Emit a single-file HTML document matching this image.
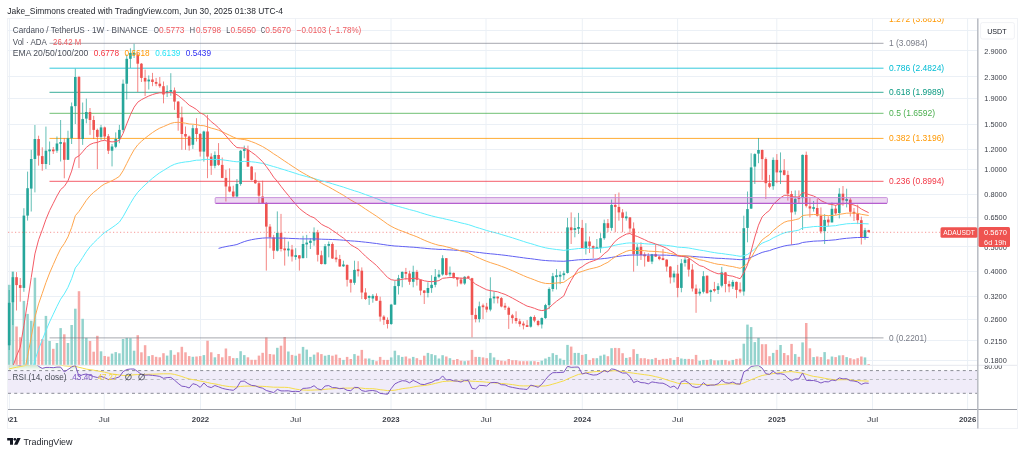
<!DOCTYPE html>
<html><head><meta charset="utf-8"><style>
html,body{margin:0;padding:0;background:#fff;width:1024px;height:454px;overflow:hidden}
svg{position:absolute;left:0;top:0;font-family:"Liberation Sans",sans-serif;will-change:transform}
</style></head><body>
<svg width="1024" height="454" viewBox="0 0 1024 454">
<rect x="7.5" y="18.5" width="1010" height="410" fill="none" stroke="#f0f2f6" stroke-width="1"/>
<line x1="8" x2="977" y1="30.5" y2="30.5" stroke="#ebf0f6" stroke-width="1"/>
<line x1="8" x2="977" y1="50.5" y2="50.5" stroke="#ebf0f6" stroke-width="1"/>
<line x1="8" x2="977" y1="76.5" y2="76.5" stroke="#ebf0f6" stroke-width="1"/>
<line x1="8" x2="977" y1="98.5" y2="98.5" stroke="#ebf0f6" stroke-width="1"/>
<line x1="8" x2="977" y1="124.5" y2="124.5" stroke="#ebf0f6" stroke-width="1"/>
<line x1="8" x2="977" y1="149.5" y2="149.5" stroke="#ebf0f6" stroke-width="1"/>
<line x1="8" x2="977" y1="169.5" y2="169.5" stroke="#ebf0f6" stroke-width="1"/>
<line x1="8" x2="977" y1="194.5" y2="194.5" stroke="#ebf0f6" stroke-width="1"/>
<line x1="8" x2="977" y1="217.5" y2="217.5" stroke="#ebf0f6" stroke-width="1"/>
<line x1="8" x2="977" y1="246.5" y2="246.5" stroke="#ebf0f6" stroke-width="1"/>
<line x1="8" x2="977" y1="271.5" y2="271.5" stroke="#ebf0f6" stroke-width="1"/>
<line x1="8" x2="977" y1="296.5" y2="296.5" stroke="#ebf0f6" stroke-width="1"/>
<line x1="8" x2="977" y1="319.5" y2="319.5" stroke="#ebf0f6" stroke-width="1"/>
<line x1="8" x2="977" y1="340.5" y2="340.5" stroke="#ebf0f6" stroke-width="1"/>
<line x1="8" x2="977" y1="360.5" y2="360.5" stroke="#ebf0f6" stroke-width="1"/>
<line x1="9.4" x2="9.4" y1="18.5" y2="409" stroke="#ebf0f6" stroke-width="1"/>
<line x1="104.2" x2="104.2" y1="18.5" y2="409" stroke="#ebf0f6" stroke-width="1"/>
<line x1="200.5" x2="200.5" y1="18.5" y2="409" stroke="#ebf0f6" stroke-width="1"/>
<line x1="295.5" x2="295.5" y1="18.5" y2="409" stroke="#ebf0f6" stroke-width="1"/>
<line x1="391" x2="391" y1="18.5" y2="409" stroke="#ebf0f6" stroke-width="1"/>
<line x1="486" x2="486" y1="18.5" y2="409" stroke="#ebf0f6" stroke-width="1"/>
<line x1="582.3" x2="582.3" y1="18.5" y2="409" stroke="#ebf0f6" stroke-width="1"/>
<line x1="677.6" x2="677.6" y1="18.5" y2="409" stroke="#ebf0f6" stroke-width="1"/>
<line x1="776.8" x2="776.8" y1="18.5" y2="409" stroke="#ebf0f6" stroke-width="1"/>
<line x1="872.5" x2="872.5" y1="18.5" y2="409" stroke="#ebf0f6" stroke-width="1"/>
<line x1="967.6" x2="967.6" y1="18.5" y2="409" stroke="#ebf0f6" stroke-width="1"/>
<rect x="8" y="370.6" width="969.5" height="22.7" fill="#f0ecf9"/>
<line x1="8" x2="977" y1="370.6" y2="370.6" stroke="#8a8d96" stroke-width="1" stroke-dasharray="3 3.2"/>
<line x1="8" x2="977" y1="379.5" y2="379.5" stroke="#b8bac0" stroke-width="1" stroke-dasharray="3 3.2"/>
<line x1="8" x2="977" y1="393.3" y2="393.3" stroke="#8a8d96" stroke-width="1" stroke-dasharray="3 3.2"/>
<line x1="8" x2="1017" y1="365.3" y2="365.3" stroke="#e6e8ee" stroke-width="1"/>
<line x1="8" x2="1017" y1="409.5" y2="409.5" stroke="#9a9da5" stroke-width="1"/>
<line x1="977.8" x2="977.8" y1="18.5" y2="428.5" stroke="#b8bbc3" stroke-width="1.5"/>
<rect x="7.95" y="284.8" width="2.5" height="80.0" fill="#93d3cd"/>
<rect x="11.62" y="271.5" width="2.5" height="93.3" fill="#93d3cd"/>
<rect x="15.30" y="326.5" width="2.5" height="38.3" fill="#f7a8a6"/>
<rect x="18.97" y="337.2" width="2.5" height="27.6" fill="#f7a8a6"/>
<rect x="22.64" y="300.9" width="2.5" height="63.9" fill="#93d3cd"/>
<rect x="26.32" y="313.9" width="2.5" height="50.9" fill="#93d3cd"/>
<rect x="29.99" y="320.7" width="2.5" height="44.1" fill="#93d3cd"/>
<rect x="33.66" y="277.7" width="2.5" height="87.1" fill="#93d3cd"/>
<rect x="37.33" y="326.5" width="2.5" height="38.3" fill="#f7a8a6"/>
<rect x="41.01" y="339.1" width="2.5" height="25.7" fill="#f7a8a6"/>
<rect x="44.68" y="315.9" width="2.5" height="48.9" fill="#93d3cd"/>
<rect x="48.35" y="341.0" width="2.5" height="23.8" fill="#93d3cd"/>
<rect x="52.03" y="348.8" width="2.5" height="16.0" fill="#f7a8a6"/>
<rect x="55.70" y="343.0" width="2.5" height="21.8" fill="#93d3cd"/>
<rect x="59.37" y="328.1" width="2.5" height="36.7" fill="#93d3cd"/>
<rect x="63.05" y="334.3" width="2.5" height="30.5" fill="#f7a8a6"/>
<rect x="66.72" y="343.0" width="2.5" height="21.8" fill="#93d3cd"/>
<rect x="70.39" y="325.0" width="2.5" height="39.8" fill="#93d3cd"/>
<rect x="74.06" y="308.7" width="2.5" height="56.1" fill="#93d3cd"/>
<rect x="77.74" y="291.2" width="2.5" height="73.6" fill="#f7a8a6"/>
<rect x="81.41" y="318.8" width="2.5" height="46.0" fill="#93d3cd"/>
<rect x="85.08" y="337.8" width="2.5" height="27.0" fill="#93d3cd"/>
<rect x="88.76" y="341.0" width="2.5" height="23.8" fill="#f7a8a6"/>
<rect x="92.43" y="351.7" width="2.5" height="13.1" fill="#f7a8a6"/>
<rect x="96.10" y="335.8" width="2.5" height="29.0" fill="#f7a8a6"/>
<rect x="99.78" y="351.3" width="2.5" height="13.5" fill="#93d3cd"/>
<rect x="103.45" y="356.0" width="2.5" height="8.8" fill="#f7a8a6"/>
<rect x="107.12" y="356.6" width="2.5" height="8.2" fill="#f7a8a6"/>
<rect x="110.79" y="353.6" width="2.5" height="11.2" fill="#93d3cd"/>
<rect x="114.47" y="352.1" width="2.5" height="12.7" fill="#93d3cd"/>
<rect x="118.14" y="353.3" width="2.5" height="11.5" fill="#93d3cd"/>
<rect x="121.81" y="339.0" width="2.5" height="25.8" fill="#93d3cd"/>
<rect x="125.49" y="337.9" width="2.5" height="26.9" fill="#93d3cd"/>
<rect x="129.16" y="338.2" width="2.5" height="26.6" fill="#93d3cd"/>
<rect x="132.83" y="350.7" width="2.5" height="14.1" fill="#93d3cd"/>
<rect x="136.50" y="335.2" width="2.5" height="29.6" fill="#f7a8a6"/>
<rect x="140.18" y="352.3" width="2.5" height="12.5" fill="#f7a8a6"/>
<rect x="143.85" y="345.2" width="2.5" height="19.6" fill="#f7a8a6"/>
<rect x="147.52" y="356.1" width="2.5" height="8.7" fill="#93d3cd"/>
<rect x="151.20" y="355.1" width="2.5" height="9.7" fill="#f7a8a6"/>
<rect x="154.87" y="356.8" width="2.5" height="8.0" fill="#f7a8a6"/>
<rect x="158.54" y="357.3" width="2.5" height="7.5" fill="#f7a8a6"/>
<rect x="162.22" y="353.2" width="2.5" height="11.6" fill="#f7a8a6"/>
<rect x="165.89" y="355.6" width="2.5" height="9.2" fill="#93d3cd"/>
<rect x="169.56" y="350.2" width="2.5" height="14.6" fill="#93d3cd"/>
<rect x="173.23" y="354.8" width="2.5" height="10.0" fill="#f7a8a6"/>
<rect x="176.91" y="352.3" width="2.5" height="12.5" fill="#f7a8a6"/>
<rect x="180.58" y="346.8" width="2.5" height="18.0" fill="#f7a8a6"/>
<rect x="184.25" y="352.3" width="2.5" height="12.5" fill="#f7a8a6"/>
<rect x="187.93" y="356.1" width="2.5" height="8.7" fill="#f7a8a6"/>
<rect x="191.60" y="356.8" width="2.5" height="8.0" fill="#93d3cd"/>
<rect x="195.27" y="356.5" width="2.5" height="8.3" fill="#f7a8a6"/>
<rect x="198.95" y="356.1" width="2.5" height="8.7" fill="#f7a8a6"/>
<rect x="202.62" y="355.1" width="2.5" height="9.7" fill="#93d3cd"/>
<rect x="206.29" y="340.7" width="2.5" height="24.1" fill="#f7a8a6"/>
<rect x="209.97" y="352.3" width="2.5" height="12.5" fill="#f7a8a6"/>
<rect x="213.64" y="357.3" width="2.5" height="7.5" fill="#93d3cd"/>
<rect x="217.31" y="354.0" width="2.5" height="10.8" fill="#f7a8a6"/>
<rect x="220.98" y="357.3" width="2.5" height="7.5" fill="#f7a8a6"/>
<rect x="224.66" y="348.5" width="2.5" height="16.3" fill="#f7a8a6"/>
<rect x="228.33" y="356.1" width="2.5" height="8.7" fill="#f7a8a6"/>
<rect x="232.00" y="358.1" width="2.5" height="6.7" fill="#f7a8a6"/>
<rect x="235.68" y="358.1" width="2.5" height="6.7" fill="#93d3cd"/>
<rect x="239.35" y="351.2" width="2.5" height="13.6" fill="#93d3cd"/>
<rect x="243.02" y="355.1" width="2.5" height="9.7" fill="#93d3cd"/>
<rect x="246.69" y="357.3" width="2.5" height="7.5" fill="#f7a8a6"/>
<rect x="250.37" y="359.8" width="2.5" height="5.0" fill="#f7a8a6"/>
<rect x="254.04" y="359.8" width="2.5" height="5.0" fill="#f7a8a6"/>
<rect x="257.71" y="355.6" width="2.5" height="9.2" fill="#f7a8a6"/>
<rect x="261.39" y="352.8" width="2.5" height="12.0" fill="#f7a8a6"/>
<rect x="265.06" y="337.4" width="2.5" height="27.4" fill="#f7a8a6"/>
<rect x="268.73" y="354.0" width="2.5" height="10.8" fill="#f7a8a6"/>
<rect x="272.41" y="354.5" width="2.5" height="10.3" fill="#f7a8a6"/>
<rect x="276.08" y="347.8" width="2.5" height="17.0" fill="#93d3cd"/>
<rect x="279.75" y="345.7" width="2.5" height="19.1" fill="#f7a8a6"/>
<rect x="283.43" y="337.0" width="2.5" height="27.8" fill="#f7a8a6"/>
<rect x="287.10" y="351.5" width="2.5" height="13.3" fill="#93d3cd"/>
<rect x="290.77" y="354.9" width="2.5" height="9.9" fill="#f7a8a6"/>
<rect x="294.44" y="355.7" width="2.5" height="9.1" fill="#93d3cd"/>
<rect x="298.12" y="353.7" width="2.5" height="11.1" fill="#f7a8a6"/>
<rect x="301.79" y="346.9" width="2.5" height="17.9" fill="#93d3cd"/>
<rect x="305.46" y="349.6" width="2.5" height="15.2" fill="#93d3cd"/>
<rect x="309.14" y="356.9" width="2.5" height="7.9" fill="#93d3cd"/>
<rect x="312.81" y="354.6" width="2.5" height="10.2" fill="#93d3cd"/>
<rect x="316.48" y="352.4" width="2.5" height="12.4" fill="#f7a8a6"/>
<rect x="320.15" y="354.1" width="2.5" height="10.7" fill="#f7a8a6"/>
<rect x="323.83" y="355.7" width="2.5" height="9.1" fill="#93d3cd"/>
<rect x="327.50" y="354.9" width="2.5" height="9.9" fill="#93d3cd"/>
<rect x="331.17" y="355.7" width="2.5" height="9.1" fill="#f7a8a6"/>
<rect x="334.85" y="354.6" width="2.5" height="10.2" fill="#f7a8a6"/>
<rect x="338.52" y="357.9" width="2.5" height="6.9" fill="#f7a8a6"/>
<rect x="342.19" y="359.9" width="2.5" height="4.9" fill="#93d3cd"/>
<rect x="345.87" y="356.9" width="2.5" height="7.9" fill="#f7a8a6"/>
<rect x="349.54" y="359.0" width="2.5" height="5.8" fill="#f7a8a6"/>
<rect x="353.21" y="354.1" width="2.5" height="10.7" fill="#93d3cd"/>
<rect x="356.88" y="355.7" width="2.5" height="9.1" fill="#f7a8a6"/>
<rect x="360.56" y="349.9" width="2.5" height="14.9" fill="#f7a8a6"/>
<rect x="364.23" y="358.5" width="2.5" height="6.3" fill="#f7a8a6"/>
<rect x="367.90" y="358.5" width="2.5" height="6.3" fill="#93d3cd"/>
<rect x="371.58" y="359.9" width="2.5" height="4.9" fill="#93d3cd"/>
<rect x="375.25" y="361.2" width="2.5" height="3.6" fill="#f7a8a6"/>
<rect x="378.92" y="356.9" width="2.5" height="7.9" fill="#f7a8a6"/>
<rect x="382.60" y="359.9" width="2.5" height="4.9" fill="#f7a8a6"/>
<rect x="386.27" y="359.9" width="2.5" height="4.9" fill="#f7a8a6"/>
<rect x="389.94" y="357.4" width="2.5" height="7.4" fill="#93d3cd"/>
<rect x="393.62" y="350.7" width="2.5" height="14.1" fill="#93d3cd"/>
<rect x="397.29" y="355.2" width="2.5" height="9.6" fill="#93d3cd"/>
<rect x="400.96" y="356.9" width="2.5" height="7.9" fill="#93d3cd"/>
<rect x="404.63" y="356.5" width="2.5" height="8.3" fill="#f7a8a6"/>
<rect x="408.31" y="358.5" width="2.5" height="6.3" fill="#f7a8a6"/>
<rect x="411.98" y="356.9" width="2.5" height="7.9" fill="#93d3cd"/>
<rect x="415.65" y="358.2" width="2.5" height="6.6" fill="#f7a8a6"/>
<rect x="419.33" y="359.9" width="2.5" height="4.9" fill="#f7a8a6"/>
<rect x="423.00" y="355.7" width="2.5" height="9.1" fill="#f7a8a6"/>
<rect x="426.67" y="352.9" width="2.5" height="11.9" fill="#93d3cd"/>
<rect x="430.34" y="354.1" width="2.5" height="10.7" fill="#93d3cd"/>
<rect x="434.02" y="355.2" width="2.5" height="9.6" fill="#93d3cd"/>
<rect x="437.69" y="358.5" width="2.5" height="6.3" fill="#93d3cd"/>
<rect x="441.36" y="355.2" width="2.5" height="9.6" fill="#93d3cd"/>
<rect x="445.04" y="356.5" width="2.5" height="8.3" fill="#f7a8a6"/>
<rect x="448.71" y="358.2" width="2.5" height="6.6" fill="#93d3cd"/>
<rect x="452.38" y="359.9" width="2.5" height="4.9" fill="#f7a8a6"/>
<rect x="456.06" y="359.0" width="2.5" height="5.8" fill="#f7a8a6"/>
<rect x="459.73" y="360.7" width="2.5" height="4.1" fill="#f7a8a6"/>
<rect x="463.40" y="361.2" width="2.5" height="3.6" fill="#93d3cd"/>
<rect x="467.07" y="360.7" width="2.5" height="4.1" fill="#f7a8a6"/>
<rect x="470.75" y="349.9" width="2.5" height="14.9" fill="#f7a8a6"/>
<rect x="474.42" y="356.9" width="2.5" height="7.9" fill="#f7a8a6"/>
<rect x="478.09" y="356.9" width="2.5" height="7.9" fill="#93d3cd"/>
<rect x="481.77" y="357.4" width="2.5" height="7.4" fill="#f7a8a6"/>
<rect x="485.44" y="358.2" width="2.5" height="6.6" fill="#f7a8a6"/>
<rect x="489.11" y="352.9" width="2.5" height="11.9" fill="#93d3cd"/>
<rect x="492.79" y="357.4" width="2.5" height="7.4" fill="#93d3cd"/>
<rect x="496.46" y="359.9" width="2.5" height="4.9" fill="#f7a8a6"/>
<rect x="500.13" y="360.7" width="2.5" height="4.1" fill="#f7a8a6"/>
<rect x="503.81" y="361.2" width="2.5" height="3.6" fill="#f7a8a6"/>
<rect x="507.48" y="359.0" width="2.5" height="5.8" fill="#f7a8a6"/>
<rect x="511.15" y="360.2" width="2.5" height="4.6" fill="#f7a8a6"/>
<rect x="514.82" y="360.2" width="2.5" height="4.6" fill="#f7a8a6"/>
<rect x="518.50" y="361.2" width="2.5" height="3.6" fill="#f7a8a6"/>
<rect x="522.17" y="361.2" width="2.5" height="3.6" fill="#f7a8a6"/>
<rect x="525.84" y="361.2" width="2.5" height="3.6" fill="#f7a8a6"/>
<rect x="529.52" y="361.2" width="2.5" height="3.6" fill="#93d3cd"/>
<rect x="533.19" y="361.2" width="2.5" height="3.6" fill="#f7a8a6"/>
<rect x="536.86" y="361.9" width="2.5" height="2.9" fill="#f7a8a6"/>
<rect x="540.54" y="360.7" width="2.5" height="4.1" fill="#93d3cd"/>
<rect x="544.21" y="358.5" width="2.5" height="6.3" fill="#93d3cd"/>
<rect x="547.88" y="356.9" width="2.5" height="7.9" fill="#93d3cd"/>
<rect x="551.55" y="353.2" width="2.5" height="11.6" fill="#93d3cd"/>
<rect x="555.23" y="354.9" width="2.5" height="9.9" fill="#93d3cd"/>
<rect x="558.90" y="358.5" width="2.5" height="6.3" fill="#93d3cd"/>
<rect x="562.57" y="359.9" width="2.5" height="4.9" fill="#93d3cd"/>
<rect x="566.25" y="344.9" width="2.5" height="19.9" fill="#93d3cd"/>
<rect x="569.92" y="346.6" width="2.5" height="18.2" fill="#f7a8a6"/>
<rect x="573.59" y="352.9" width="2.5" height="11.9" fill="#93d3cd"/>
<rect x="577.27" y="352.9" width="2.5" height="11.9" fill="#93d3cd"/>
<rect x="580.94" y="354.9" width="2.5" height="9.9" fill="#f7a8a6"/>
<rect x="584.61" y="354.1" width="2.5" height="10.7" fill="#93d3cd"/>
<rect x="588.28" y="359.9" width="2.5" height="4.9" fill="#f7a8a6"/>
<rect x="591.96" y="358.2" width="2.5" height="6.6" fill="#f7a8a6"/>
<rect x="595.63" y="358.2" width="2.5" height="6.6" fill="#93d3cd"/>
<rect x="599.30" y="355.7" width="2.5" height="9.1" fill="#93d3cd"/>
<rect x="602.98" y="354.6" width="2.5" height="10.2" fill="#93d3cd"/>
<rect x="606.65" y="356.2" width="2.5" height="8.6" fill="#f7a8a6"/>
<rect x="610.32" y="348.2" width="2.5" height="16.6" fill="#93d3cd"/>
<rect x="614.00" y="347.9" width="2.5" height="16.9" fill="#f7a8a6"/>
<rect x="617.67" y="348.1" width="2.5" height="16.7" fill="#f7a8a6"/>
<rect x="621.34" y="353.2" width="2.5" height="11.6" fill="#f7a8a6"/>
<rect x="625.01" y="357.9" width="2.5" height="6.9" fill="#93d3cd"/>
<rect x="628.69" y="357.2" width="2.5" height="7.6" fill="#f7a8a6"/>
<rect x="632.36" y="349.2" width="2.5" height="15.6" fill="#f7a8a6"/>
<rect x="636.03" y="353.9" width="2.5" height="10.9" fill="#93d3cd"/>
<rect x="639.71" y="358.2" width="2.5" height="6.6" fill="#f7a8a6"/>
<rect x="643.38" y="358.2" width="2.5" height="6.6" fill="#f7a8a6"/>
<rect x="647.05" y="359.2" width="2.5" height="5.6" fill="#f7a8a6"/>
<rect x="650.73" y="359.2" width="2.5" height="5.6" fill="#93d3cd"/>
<rect x="654.40" y="357.9" width="2.5" height="6.9" fill="#f7a8a6"/>
<rect x="658.07" y="359.9" width="2.5" height="4.9" fill="#f7a8a6"/>
<rect x="661.74" y="358.9" width="2.5" height="5.9" fill="#f7a8a6"/>
<rect x="665.42" y="358.9" width="2.5" height="5.9" fill="#f7a8a6"/>
<rect x="669.09" y="358.2" width="2.5" height="6.6" fill="#f7a8a6"/>
<rect x="672.76" y="359.9" width="2.5" height="4.9" fill="#93d3cd"/>
<rect x="676.44" y="357.0" width="2.5" height="7.8" fill="#f7a8a6"/>
<rect x="680.11" y="358.5" width="2.5" height="6.3" fill="#93d3cd"/>
<rect x="683.78" y="358.9" width="2.5" height="5.9" fill="#93d3cd"/>
<rect x="687.46" y="358.9" width="2.5" height="5.9" fill="#f7a8a6"/>
<rect x="691.13" y="359.2" width="2.5" height="5.6" fill="#f7a8a6"/>
<rect x="694.80" y="354.9" width="2.5" height="9.9" fill="#f7a8a6"/>
<rect x="698.47" y="360.9" width="2.5" height="3.9" fill="#93d3cd"/>
<rect x="702.15" y="359.9" width="2.5" height="4.9" fill="#93d3cd"/>
<rect x="705.82" y="359.9" width="2.5" height="4.9" fill="#f7a8a6"/>
<rect x="709.49" y="359.2" width="2.5" height="5.6" fill="#93d3cd"/>
<rect x="713.17" y="360.4" width="2.5" height="4.4" fill="#f7a8a6"/>
<rect x="716.84" y="360.4" width="2.5" height="4.4" fill="#93d3cd"/>
<rect x="720.51" y="359.9" width="2.5" height="4.9" fill="#93d3cd"/>
<rect x="724.19" y="359.9" width="2.5" height="4.9" fill="#f7a8a6"/>
<rect x="727.86" y="361.2" width="2.5" height="3.6" fill="#f7a8a6"/>
<rect x="731.53" y="359.9" width="2.5" height="4.9" fill="#93d3cd"/>
<rect x="735.20" y="358.9" width="2.5" height="5.9" fill="#f7a8a6"/>
<rect x="738.88" y="358.5" width="2.5" height="6.3" fill="#f7a8a6"/>
<rect x="742.55" y="343.7" width="2.5" height="21.1" fill="#93d3cd"/>
<rect x="746.22" y="324.6" width="2.5" height="40.2" fill="#93d3cd"/>
<rect x="749.90" y="327.1" width="2.5" height="37.7" fill="#93d3cd"/>
<rect x="753.57" y="342.1" width="2.5" height="22.7" fill="#93d3cd"/>
<rect x="757.24" y="337.9" width="2.5" height="26.9" fill="#93d3cd"/>
<rect x="760.92" y="344.2" width="2.5" height="20.6" fill="#f7a8a6"/>
<rect x="764.59" y="344.2" width="2.5" height="20.6" fill="#f7a8a6"/>
<rect x="768.26" y="356.2" width="2.5" height="8.6" fill="#f7a8a6"/>
<rect x="771.93" y="352.9" width="2.5" height="11.9" fill="#93d3cd"/>
<rect x="775.61" y="349.9" width="2.5" height="14.9" fill="#f7a8a6"/>
<rect x="779.28" y="345.0" width="2.5" height="19.8" fill="#93d3cd"/>
<rect x="782.95" y="353.0" width="2.5" height="11.8" fill="#f7a8a6"/>
<rect x="786.63" y="355.2" width="2.5" height="9.6" fill="#f7a8a6"/>
<rect x="790.30" y="343.9" width="2.5" height="20.9" fill="#f7a8a6"/>
<rect x="793.97" y="354.1" width="2.5" height="10.7" fill="#93d3cd"/>
<rect x="797.65" y="356.8" width="2.5" height="8.0" fill="#f7a8a6"/>
<rect x="801.32" y="342.4" width="2.5" height="22.4" fill="#93d3cd"/>
<rect x="804.99" y="323.0" width="2.5" height="41.8" fill="#f7a8a6"/>
<rect x="808.66" y="348.3" width="2.5" height="16.5" fill="#f7a8a6"/>
<rect x="812.34" y="357.1" width="2.5" height="7.7" fill="#93d3cd"/>
<rect x="816.01" y="356.5" width="2.5" height="8.3" fill="#f7a8a6"/>
<rect x="819.68" y="357.1" width="2.5" height="7.7" fill="#f7a8a6"/>
<rect x="823.36" y="352.1" width="2.5" height="12.7" fill="#93d3cd"/>
<rect x="827.03" y="359.3" width="2.5" height="5.5" fill="#f7a8a6"/>
<rect x="830.70" y="356.5" width="2.5" height="8.3" fill="#93d3cd"/>
<rect x="834.38" y="357.1" width="2.5" height="7.7" fill="#f7a8a6"/>
<rect x="838.05" y="355.4" width="2.5" height="9.4" fill="#93d3cd"/>
<rect x="841.72" y="355.2" width="2.5" height="9.6" fill="#f7a8a6"/>
<rect x="845.39" y="357.1" width="2.5" height="7.7" fill="#93d3cd"/>
<rect x="849.07" y="358.2" width="2.5" height="6.6" fill="#f7a8a6"/>
<rect x="852.74" y="359.3" width="2.5" height="5.5" fill="#f7a8a6"/>
<rect x="856.41" y="358.2" width="2.5" height="6.6" fill="#f7a8a6"/>
<rect x="860.09" y="356.5" width="2.5" height="8.3" fill="#f7a8a6"/>
<rect x="863.76" y="357.4" width="2.5" height="7.4" fill="#93d3cd"/>
<rect x="867.43" y="364.0" width="2.5" height="0.8" fill="#f7a8a6"/>
<line x1="49.5" x2="883.5" y1="43.3" y2="43.3" stroke="#787b86" stroke-width="1.0" opacity="0.65"/>
<text x="889" y="45.9" font-size="8.6" fill="#787b86" textLength="38.5" lengthAdjust="spacingAndGlyphs">1 (3.0984)</text>
<line x1="49.5" x2="883.5" y1="68.2" y2="68.2" stroke="#00bcd4" stroke-width="1.0" opacity="0.8"/>
<text x="889" y="70.8" font-size="8.6" fill="#00bcd4" textLength="55.2" lengthAdjust="spacingAndGlyphs">0.786 (2.4824)</text>
<line x1="49.5" x2="883.5" y1="92.3" y2="92.3" stroke="#089981" stroke-width="1.0" opacity="0.8"/>
<text x="889" y="94.9" font-size="8.6" fill="#089981" textLength="55.2" lengthAdjust="spacingAndGlyphs">0.618 (1.9989)</text>
<line x1="49.5" x2="883.5" y1="113.3" y2="113.3" stroke="#4caf50" stroke-width="1.0" opacity="0.8"/>
<text x="889" y="115.9" font-size="8.6" fill="#4caf50" textLength="46.2" lengthAdjust="spacingAndGlyphs">0.5 (1.6592)</text>
<line x1="49.5" x2="883.5" y1="138.4" y2="138.4" stroke="#ff9800" stroke-width="1.0" opacity="0.8"/>
<text x="889" y="141.0" font-size="8.6" fill="#ff9800" textLength="55.2" lengthAdjust="spacingAndGlyphs">0.382 (1.3196)</text>
<line x1="49.5" x2="883.5" y1="181.3" y2="181.3" stroke="#f23645" stroke-width="1.0" opacity="0.8"/>
<text x="889" y="183.9" font-size="8.6" fill="#f23645" textLength="55.2" lengthAdjust="spacingAndGlyphs">0.236 (0.8994)</text>
<line x1="49.5" x2="883.5" y1="337.9" y2="337.9" stroke="#787b86" stroke-width="1.0" opacity="0.65"/>
<text x="889" y="340.5" font-size="8.6" fill="#787b86" textLength="37.8" lengthAdjust="spacingAndGlyphs">0 (0.2201)</text>
<clipPath id="ctop"><rect x="0" y="18.5" width="1024" height="400"/></clipPath>
<text x="889" y="21.8" font-size="8.6" fill="#ff9800" textLength="55.2" lengthAdjust="spacingAndGlyphs" clip-path="url(#ctop)">1.272 (3.8813)</text>
<line x1="9.20" x2="9.20" y1="290.0" y2="350.0" stroke="#26a69a" stroke-width="0.9" opacity="0.8"/>
<rect x="7.90" y="302.80" width="2.6" height="42.50" fill="#26a69a"/>
<line x1="12.87" x2="12.87" y1="271.9" y2="325.0" stroke="#26a69a" stroke-width="0.9" opacity="0.8"/>
<rect x="11.57" y="277.20" width="2.6" height="25.00" fill="#26a69a"/>
<line x1="16.55" x2="16.55" y1="272.1" y2="310.5" stroke="#ef5350" stroke-width="0.9" opacity="0.8"/>
<rect x="15.25" y="277.20" width="2.6" height="7.90" fill="#ef5350"/>
<line x1="20.22" x2="20.22" y1="278.0" y2="301.7" stroke="#ef5350" stroke-width="0.9" opacity="0.8"/>
<rect x="18.92" y="285.10" width="2.6" height="2.80" fill="#ef5350"/>
<line x1="23.89" x2="23.89" y1="208.2" y2="291.8" stroke="#26a69a" stroke-width="0.9" opacity="0.8"/>
<rect x="22.59" y="215.60" width="2.6" height="72.30" fill="#26a69a"/>
<line x1="27.57" x2="27.57" y1="171.6" y2="220.6" stroke="#26a69a" stroke-width="0.9" opacity="0.8"/>
<rect x="26.27" y="188.20" width="2.6" height="27.40" fill="#26a69a"/>
<line x1="31.24" x2="31.24" y1="149.8" y2="211.5" stroke="#26a69a" stroke-width="0.9" opacity="0.8"/>
<rect x="29.94" y="159.00" width="2.6" height="29.60" fill="#26a69a"/>
<line x1="34.91" x2="34.91" y1="125.0" y2="192.4" stroke="#26a69a" stroke-width="0.9" opacity="0.8"/>
<rect x="33.61" y="139.00" width="2.6" height="20.00" fill="#26a69a"/>
<line x1="38.58" x2="38.58" y1="135.7" y2="165.6" stroke="#ef5350" stroke-width="0.9" opacity="0.8"/>
<rect x="37.28" y="139.00" width="2.6" height="16.60" fill="#ef5350"/>
<line x1="42.26" x2="42.26" y1="147.3" y2="170.8" stroke="#ef5350" stroke-width="0.9" opacity="0.8"/>
<rect x="40.96" y="156.10" width="2.6" height="7.90" fill="#ef5350"/>
<line x1="45.93" x2="45.93" y1="126.6" y2="169.0" stroke="#26a69a" stroke-width="0.9" opacity="0.8"/>
<rect x="44.63" y="150.70" width="2.6" height="13.30" fill="#26a69a"/>
<line x1="49.60" x2="49.60" y1="141.5" y2="165.0" stroke="#26a69a" stroke-width="0.9" opacity="0.8"/>
<rect x="48.30" y="149.50" width="2.6" height="1.80" fill="#26a69a"/>
<line x1="53.28" x2="53.28" y1="147.0" y2="154.0" stroke="#ef5350" stroke-width="0.9" opacity="0.8"/>
<rect x="51.98" y="149.50" width="2.6" height="1.80" fill="#ef5350"/>
<line x1="56.95" x2="56.95" y1="136.5" y2="152.8" stroke="#26a69a" stroke-width="0.9" opacity="0.8"/>
<rect x="55.65" y="143.50" width="2.6" height="7.20" fill="#26a69a"/>
<line x1="60.62" x2="60.62" y1="120.0" y2="161.5" stroke="#26a69a" stroke-width="0.9" opacity="0.8"/>
<rect x="59.32" y="142.05" width="2.6" height="1.80" fill="#26a69a"/>
<line x1="64.30" x2="64.30" y1="138.2" y2="178.3" stroke="#ef5350" stroke-width="0.9" opacity="0.8"/>
<rect x="63.00" y="142.40" width="2.6" height="17.40" fill="#ef5350"/>
<line x1="67.97" x2="67.97" y1="130.7" y2="160.0" stroke="#26a69a" stroke-width="0.9" opacity="0.8"/>
<rect x="66.67" y="138.20" width="2.6" height="21.60" fill="#26a69a"/>
<line x1="71.64" x2="71.64" y1="102.5" y2="144.0" stroke="#26a69a" stroke-width="0.9" opacity="0.8"/>
<rect x="70.34" y="106.30" width="2.6" height="31.90" fill="#26a69a"/>
<line x1="75.31" x2="75.31" y1="68.7" y2="124.0" stroke="#26a69a" stroke-width="0.9" opacity="0.8"/>
<rect x="74.01" y="77.00" width="2.6" height="29.10" fill="#26a69a"/>
<line x1="78.99" x2="78.99" y1="75.9" y2="168.1" stroke="#ef5350" stroke-width="0.9" opacity="0.8"/>
<rect x="77.69" y="77.00" width="2.6" height="62.00" fill="#ef5350"/>
<line x1="82.66" x2="82.66" y1="102.5" y2="144.9" stroke="#26a69a" stroke-width="0.9" opacity="0.8"/>
<rect x="81.36" y="119.10" width="2.6" height="19.90" fill="#26a69a"/>
<line x1="86.33" x2="86.33" y1="98.6" y2="123.3" stroke="#26a69a" stroke-width="0.9" opacity="0.8"/>
<rect x="85.03" y="112.00" width="2.6" height="6.60" fill="#26a69a"/>
<line x1="90.01" x2="90.01" y1="108.0" y2="134.9" stroke="#ef5350" stroke-width="0.9" opacity="0.8"/>
<rect x="88.71" y="112.00" width="2.6" height="8.00" fill="#ef5350"/>
<line x1="93.68" x2="93.68" y1="115.8" y2="139.0" stroke="#ef5350" stroke-width="0.9" opacity="0.8"/>
<rect x="92.38" y="120.00" width="2.6" height="9.90" fill="#ef5350"/>
<line x1="97.35" x2="97.35" y1="128.6" y2="169.1" stroke="#ef5350" stroke-width="0.9" opacity="0.8"/>
<rect x="96.05" y="129.90" width="2.6" height="7.00" fill="#ef5350"/>
<line x1="101.03" x2="101.03" y1="124.9" y2="139.9" stroke="#26a69a" stroke-width="0.9" opacity="0.8"/>
<rect x="99.73" y="127.40" width="2.6" height="9.50" fill="#26a69a"/>
<line x1="104.70" x2="104.70" y1="126.6" y2="139.9" stroke="#ef5350" stroke-width="0.9" opacity="0.8"/>
<rect x="103.40" y="127.40" width="2.6" height="9.10" fill="#ef5350"/>
<line x1="108.37" x2="108.37" y1="134.0" y2="154.0" stroke="#ef5350" stroke-width="0.9" opacity="0.8"/>
<rect x="107.07" y="136.20" width="2.6" height="14.50" fill="#ef5350"/>
<line x1="112.04" x2="112.04" y1="144.0" y2="166.4" stroke="#26a69a" stroke-width="0.9" opacity="0.8"/>
<rect x="110.74" y="146.50" width="2.6" height="4.20" fill="#26a69a"/>
<line x1="115.72" x2="115.72" y1="132.4" y2="148.2" stroke="#26a69a" stroke-width="0.9" opacity="0.8"/>
<rect x="114.42" y="139.00" width="2.6" height="7.80" fill="#26a69a"/>
<line x1="119.39" x2="119.39" y1="124.9" y2="143.2" stroke="#26a69a" stroke-width="0.9" opacity="0.8"/>
<rect x="118.09" y="129.90" width="2.6" height="9.10" fill="#26a69a"/>
<line x1="123.06" x2="123.06" y1="79.5" y2="132.4" stroke="#26a69a" stroke-width="0.9" opacity="0.8"/>
<rect x="121.76" y="83.70" width="2.6" height="46.20" fill="#26a69a"/>
<line x1="126.74" x2="126.74" y1="54.6" y2="99.5" stroke="#26a69a" stroke-width="0.9" opacity="0.8"/>
<rect x="125.44" y="58.80" width="2.6" height="24.90" fill="#26a69a"/>
<line x1="130.41" x2="130.41" y1="48.3" y2="67.9" stroke="#26a69a" stroke-width="0.9" opacity="0.8"/>
<rect x="129.11" y="53.00" width="2.6" height="5.80" fill="#26a69a"/>
<line x1="134.08" x2="134.08" y1="43.8" y2="58.0" stroke="#26a69a" stroke-width="0.9" opacity="0.8"/>
<rect x="132.78" y="52.85" width="2.6" height="1.80" fill="#26a69a"/>
<line x1="137.75" x2="137.75" y1="52.1" y2="92.0" stroke="#ef5350" stroke-width="0.9" opacity="0.8"/>
<rect x="136.45" y="54.60" width="2.6" height="9.10" fill="#ef5350"/>
<line x1="141.43" x2="141.43" y1="63.0" y2="82.0" stroke="#ef5350" stroke-width="0.9" opacity="0.8"/>
<rect x="140.13" y="63.70" width="2.6" height="14.20" fill="#ef5350"/>
<line x1="145.10" x2="145.10" y1="69.6" y2="96.1" stroke="#ef5350" stroke-width="0.9" opacity="0.8"/>
<rect x="143.80" y="77.90" width="2.6" height="3.60" fill="#ef5350"/>
<line x1="148.77" x2="148.77" y1="75.4" y2="89.5" stroke="#26a69a" stroke-width="0.9" opacity="0.8"/>
<rect x="147.47" y="79.60" width="2.6" height="1.80" fill="#26a69a"/>
<line x1="152.45" x2="152.45" y1="72.9" y2="86.2" stroke="#ef5350" stroke-width="0.9" opacity="0.8"/>
<rect x="151.15" y="79.50" width="2.6" height="2.50" fill="#ef5350"/>
<line x1="156.12" x2="156.12" y1="77.9" y2="86.2" stroke="#ef5350" stroke-width="0.9" opacity="0.8"/>
<rect x="154.82" y="81.95" width="2.6" height="1.80" fill="#ef5350"/>
<line x1="159.79" x2="159.79" y1="77.0" y2="87.8" stroke="#ef5350" stroke-width="0.9" opacity="0.8"/>
<rect x="158.49" y="83.70" width="2.6" height="2.50" fill="#ef5350"/>
<line x1="163.47" x2="163.47" y1="81.5" y2="103.3" stroke="#ef5350" stroke-width="0.9" opacity="0.8"/>
<rect x="162.17" y="86.20" width="2.6" height="8.30" fill="#ef5350"/>
<line x1="167.14" x2="167.14" y1="85.3" y2="97.0" stroke="#26a69a" stroke-width="0.9" opacity="0.8"/>
<rect x="165.84" y="91.10" width="2.6" height="1.80" fill="#26a69a"/>
<line x1="170.81" x2="170.81" y1="73.2" y2="95.8" stroke="#26a69a" stroke-width="0.9" opacity="0.8"/>
<rect x="169.51" y="90.00" width="2.6" height="1.80" fill="#26a69a"/>
<line x1="174.48" x2="174.48" y1="87.5" y2="109.9" stroke="#ef5350" stroke-width="0.9" opacity="0.8"/>
<rect x="173.18" y="90.30" width="2.6" height="11.30" fill="#ef5350"/>
<line x1="178.16" x2="178.16" y1="101.0" y2="130.7" stroke="#ef5350" stroke-width="0.9" opacity="0.8"/>
<rect x="176.86" y="101.60" width="2.6" height="16.30" fill="#ef5350"/>
<line x1="181.83" x2="181.83" y1="106.6" y2="149.8" stroke="#ef5350" stroke-width="0.9" opacity="0.8"/>
<rect x="180.53" y="117.40" width="2.6" height="16.60" fill="#ef5350"/>
<line x1="185.50" x2="185.50" y1="126.5" y2="149.8" stroke="#ef5350" stroke-width="0.9" opacity="0.8"/>
<rect x="184.20" y="134.00" width="2.6" height="2.50" fill="#ef5350"/>
<line x1="189.18" x2="189.18" y1="135.6" y2="150.6" stroke="#ef5350" stroke-width="0.9" opacity="0.8"/>
<rect x="187.88" y="136.50" width="2.6" height="9.10" fill="#ef5350"/>
<line x1="192.85" x2="192.85" y1="124.9" y2="148.9" stroke="#26a69a" stroke-width="0.9" opacity="0.8"/>
<rect x="191.55" y="128.20" width="2.6" height="16.60" fill="#26a69a"/>
<line x1="196.52" x2="196.52" y1="118.2" y2="141.5" stroke="#ef5350" stroke-width="0.9" opacity="0.8"/>
<rect x="195.22" y="128.20" width="2.6" height="5.80" fill="#ef5350"/>
<line x1="200.20" x2="200.20" y1="133.0" y2="156.6" stroke="#ef5350" stroke-width="0.9" opacity="0.8"/>
<rect x="198.90" y="134.00" width="2.6" height="17.60" fill="#ef5350"/>
<line x1="203.87" x2="203.87" y1="130.7" y2="161.6" stroke="#26a69a" stroke-width="0.9" opacity="0.8"/>
<rect x="202.57" y="131.50" width="2.6" height="20.10" fill="#26a69a"/>
<line x1="207.54" x2="207.54" y1="114.9" y2="178.2" stroke="#ef5350" stroke-width="0.9" opacity="0.8"/>
<rect x="206.24" y="131.50" width="2.6" height="25.10" fill="#ef5350"/>
<line x1="211.22" x2="211.22" y1="153.3" y2="174.9" stroke="#ef5350" stroke-width="0.9" opacity="0.8"/>
<rect x="209.91" y="156.60" width="2.6" height="9.20" fill="#ef5350"/>
<line x1="214.89" x2="214.89" y1="151.4" y2="168.3" stroke="#26a69a" stroke-width="0.9" opacity="0.8"/>
<rect x="213.59" y="155.00" width="2.6" height="10.80" fill="#26a69a"/>
<line x1="218.56" x2="218.56" y1="143.1" y2="165.8" stroke="#ef5350" stroke-width="0.9" opacity="0.8"/>
<rect x="217.26" y="155.00" width="2.6" height="9.90" fill="#ef5350"/>
<line x1="222.23" x2="222.23" y1="157.5" y2="178.2" stroke="#ef5350" stroke-width="0.9" opacity="0.8"/>
<rect x="220.93" y="164.90" width="2.6" height="13.00" fill="#ef5350"/>
<line x1="225.91" x2="225.91" y1="169.9" y2="201.5" stroke="#ef5350" stroke-width="0.9" opacity="0.8"/>
<rect x="224.61" y="177.90" width="2.6" height="8.60" fill="#ef5350"/>
<line x1="229.58" x2="229.58" y1="168.3" y2="192.3" stroke="#ef5350" stroke-width="0.9" opacity="0.8"/>
<rect x="228.28" y="186.50" width="2.6" height="5.00" fill="#ef5350"/>
<line x1="233.25" x2="233.25" y1="185.7" y2="197.8" stroke="#ef5350" stroke-width="0.9" opacity="0.8"/>
<rect x="231.95" y="191.50" width="2.6" height="5.00" fill="#ef5350"/>
<line x1="236.93" x2="236.93" y1="179.0" y2="197.8" stroke="#26a69a" stroke-width="0.9" opacity="0.8"/>
<rect x="235.63" y="184.00" width="2.6" height="12.50" fill="#26a69a"/>
<line x1="240.60" x2="240.60" y1="150.0" y2="185.7" stroke="#26a69a" stroke-width="0.9" opacity="0.8"/>
<rect x="239.30" y="150.80" width="2.6" height="33.20" fill="#26a69a"/>
<line x1="244.27" x2="244.27" y1="145.6" y2="158.3" stroke="#26a69a" stroke-width="0.9" opacity="0.8"/>
<rect x="242.97" y="149.10" width="2.6" height="1.80" fill="#26a69a"/>
<line x1="247.94" x2="247.94" y1="145.6" y2="167.0" stroke="#ef5350" stroke-width="0.9" opacity="0.8"/>
<rect x="246.64" y="150.00" width="2.6" height="16.60" fill="#ef5350"/>
<line x1="251.62" x2="251.62" y1="166.0" y2="180.5" stroke="#ef5350" stroke-width="0.9" opacity="0.8"/>
<rect x="250.32" y="166.60" width="2.6" height="13.30" fill="#ef5350"/>
<line x1="255.29" x2="255.29" y1="172.4" y2="184.0" stroke="#ef5350" stroke-width="0.9" opacity="0.8"/>
<rect x="253.99" y="179.90" width="2.6" height="3.30" fill="#ef5350"/>
<line x1="258.96" x2="258.96" y1="181.5" y2="203.1" stroke="#ef5350" stroke-width="0.9" opacity="0.8"/>
<rect x="257.66" y="183.20" width="2.6" height="12.50" fill="#ef5350"/>
<line x1="262.64" x2="262.64" y1="180.7" y2="204.0" stroke="#ef5350" stroke-width="0.9" opacity="0.8"/>
<rect x="261.34" y="196.50" width="2.6" height="6.60" fill="#ef5350"/>
<line x1="266.31" x2="266.31" y1="202.0" y2="270.6" stroke="#ef5350" stroke-width="0.9" opacity="0.8"/>
<rect x="265.01" y="203.10" width="2.6" height="23.50" fill="#ef5350"/>
<line x1="269.98" x2="269.98" y1="224.1" y2="248.2" stroke="#ef5350" stroke-width="0.9" opacity="0.8"/>
<rect x="268.68" y="226.60" width="2.6" height="10.80" fill="#ef5350"/>
<line x1="273.66" x2="273.66" y1="234.9" y2="259.0" stroke="#ef5350" stroke-width="0.9" opacity="0.8"/>
<rect x="272.36" y="237.40" width="2.6" height="13.30" fill="#ef5350"/>
<line x1="277.33" x2="277.33" y1="211.4" y2="251.5" stroke="#26a69a" stroke-width="0.9" opacity="0.8"/>
<rect x="276.03" y="232.90" width="2.6" height="17.80" fill="#26a69a"/>
<line x1="281.00" x2="281.00" y1="213.9" y2="251.5" stroke="#ef5350" stroke-width="0.9" opacity="0.8"/>
<rect x="279.70" y="232.90" width="2.6" height="16.10" fill="#ef5350"/>
<line x1="284.68" x2="284.68" y1="237.4" y2="265.6" stroke="#ef5350" stroke-width="0.9" opacity="0.8"/>
<rect x="283.38" y="248.50" width="2.6" height="1.80" fill="#ef5350"/>
<line x1="288.35" x2="288.35" y1="241.5" y2="256.5" stroke="#26a69a" stroke-width="0.9" opacity="0.8"/>
<rect x="287.05" y="248.60" width="2.6" height="1.80" fill="#26a69a"/>
<line x1="292.02" x2="292.02" y1="244.9" y2="261.5" stroke="#ef5350" stroke-width="0.9" opacity="0.8"/>
<rect x="290.72" y="249.50" width="2.6" height="7.00" fill="#ef5350"/>
<line x1="295.69" x2="295.69" y1="248.2" y2="259.8" stroke="#26a69a" stroke-width="0.9" opacity="0.8"/>
<rect x="294.39" y="255.20" width="2.6" height="1.80" fill="#26a69a"/>
<line x1="299.37" x2="299.37" y1="255.0" y2="270.6" stroke="#ef5350" stroke-width="0.9" opacity="0.8"/>
<rect x="298.07" y="255.30" width="2.6" height="3.20" fill="#ef5350"/>
<line x1="303.04" x2="303.04" y1="235.7" y2="258.5" stroke="#26a69a" stroke-width="0.9" opacity="0.8"/>
<rect x="301.74" y="244.00" width="2.6" height="14.10" fill="#26a69a"/>
<line x1="306.71" x2="306.71" y1="234.9" y2="258.1" stroke="#26a69a" stroke-width="0.9" opacity="0.8"/>
<rect x="305.41" y="242.60" width="2.6" height="1.80" fill="#26a69a"/>
<line x1="310.39" x2="310.39" y1="238.2" y2="249.0" stroke="#26a69a" stroke-width="0.9" opacity="0.8"/>
<rect x="309.09" y="240.70" width="2.6" height="2.20" fill="#26a69a"/>
<line x1="314.06" x2="314.06" y1="227.4" y2="245.7" stroke="#26a69a" stroke-width="0.9" opacity="0.8"/>
<rect x="312.76" y="232.40" width="2.6" height="8.30" fill="#26a69a"/>
<line x1="317.73" x2="317.73" y1="229.9" y2="261.5" stroke="#ef5350" stroke-width="0.9" opacity="0.8"/>
<rect x="316.43" y="232.40" width="2.6" height="22.40" fill="#ef5350"/>
<line x1="321.40" x2="321.40" y1="250.7" y2="264.5" stroke="#ef5350" stroke-width="0.9" opacity="0.8"/>
<rect x="320.10" y="255.30" width="2.6" height="8.70" fill="#ef5350"/>
<line x1="325.08" x2="325.08" y1="244.0" y2="264.8" stroke="#26a69a" stroke-width="0.9" opacity="0.8"/>
<rect x="323.78" y="246.20" width="2.6" height="17.80" fill="#26a69a"/>
<line x1="328.75" x2="328.75" y1="241.5" y2="257.3" stroke="#26a69a" stroke-width="0.9" opacity="0.8"/>
<rect x="327.45" y="244.00" width="2.6" height="1.80" fill="#26a69a"/>
<line x1="332.42" x2="332.42" y1="242.4" y2="259.0" stroke="#ef5350" stroke-width="0.9" opacity="0.8"/>
<rect x="331.12" y="244.00" width="2.6" height="14.50" fill="#ef5350"/>
<line x1="336.10" x2="336.10" y1="249.8" y2="262.3" stroke="#ef5350" stroke-width="0.9" opacity="0.8"/>
<rect x="334.80" y="257.60" width="2.6" height="1.80" fill="#ef5350"/>
<line x1="339.77" x2="339.77" y1="254.9" y2="266.8" stroke="#ef5350" stroke-width="0.9" opacity="0.8"/>
<rect x="338.47" y="259.10" width="2.6" height="7.40" fill="#ef5350"/>
<line x1="343.44" x2="343.44" y1="260.7" y2="266.9" stroke="#26a69a" stroke-width="0.9" opacity="0.8"/>
<rect x="342.14" y="264.50" width="2.6" height="1.80" fill="#26a69a"/>
<line x1="347.12" x2="347.12" y1="264.5" y2="286.5" stroke="#ef5350" stroke-width="0.9" opacity="0.8"/>
<rect x="345.82" y="264.90" width="2.6" height="14.90" fill="#ef5350"/>
<line x1="350.79" x2="350.79" y1="279.0" y2="292.5" stroke="#ef5350" stroke-width="0.9" opacity="0.8"/>
<rect x="349.49" y="279.50" width="2.6" height="3.30" fill="#ef5350"/>
<line x1="354.46" x2="354.46" y1="260.7" y2="284.8" stroke="#26a69a" stroke-width="0.9" opacity="0.8"/>
<rect x="353.16" y="269.90" width="2.6" height="12.90" fill="#26a69a"/>
<line x1="358.13" x2="358.13" y1="261.2" y2="276.5" stroke="#ef5350" stroke-width="0.9" opacity="0.8"/>
<rect x="356.83" y="269.30" width="2.6" height="1.80" fill="#ef5350"/>
<line x1="361.81" x2="361.81" y1="267.4" y2="299.1" stroke="#ef5350" stroke-width="0.9" opacity="0.8"/>
<rect x="360.51" y="270.70" width="2.6" height="21.80" fill="#ef5350"/>
<line x1="365.48" x2="365.48" y1="288.2" y2="300.0" stroke="#ef5350" stroke-width="0.9" opacity="0.8"/>
<rect x="364.18" y="292.50" width="2.6" height="6.50" fill="#ef5350"/>
<line x1="369.15" x2="369.15" y1="295.3" y2="304.9" stroke="#26a69a" stroke-width="0.9" opacity="0.8"/>
<rect x="367.85" y="296.00" width="2.6" height="1.80" fill="#26a69a"/>
<line x1="372.83" x2="372.83" y1="294.0" y2="302.7" stroke="#26a69a" stroke-width="0.9" opacity="0.8"/>
<rect x="371.53" y="295.80" width="2.6" height="2.70" fill="#26a69a"/>
<line x1="376.50" x2="376.50" y1="293.4" y2="300.8" stroke="#ef5350" stroke-width="0.9" opacity="0.8"/>
<rect x="375.20" y="295.90" width="2.6" height="4.80" fill="#ef5350"/>
<line x1="380.17" x2="380.17" y1="296.7" y2="321.5" stroke="#ef5350" stroke-width="0.9" opacity="0.8"/>
<rect x="378.87" y="300.80" width="2.6" height="15.80" fill="#ef5350"/>
<line x1="383.85" x2="383.85" y1="315.2" y2="324.9" stroke="#ef5350" stroke-width="0.9" opacity="0.8"/>
<rect x="382.55" y="316.60" width="2.6" height="3.30" fill="#ef5350"/>
<line x1="387.52" x2="387.52" y1="317.4" y2="328.5" stroke="#ef5350" stroke-width="0.9" opacity="0.8"/>
<rect x="386.22" y="319.90" width="2.6" height="4.10" fill="#ef5350"/>
<line x1="391.19" x2="391.19" y1="303.9" y2="324.9" stroke="#26a69a" stroke-width="0.9" opacity="0.8"/>
<rect x="389.89" y="304.60" width="2.6" height="19.40" fill="#26a69a"/>
<line x1="394.87" x2="394.87" y1="280.7" y2="305.0" stroke="#26a69a" stroke-width="0.9" opacity="0.8"/>
<rect x="393.56" y="286.10" width="2.6" height="18.50" fill="#26a69a"/>
<line x1="398.54" x2="398.54" y1="274.9" y2="294.5" stroke="#26a69a" stroke-width="0.9" opacity="0.8"/>
<rect x="397.24" y="278.20" width="2.6" height="7.90" fill="#26a69a"/>
<line x1="402.21" x2="402.21" y1="271.5" y2="287.3" stroke="#26a69a" stroke-width="0.9" opacity="0.8"/>
<rect x="400.91" y="271.90" width="2.6" height="6.30" fill="#26a69a"/>
<line x1="405.88" x2="405.88" y1="267.9" y2="279.8" stroke="#ef5350" stroke-width="0.9" opacity="0.8"/>
<rect x="404.58" y="272.00" width="2.6" height="1.80" fill="#ef5350"/>
<line x1="409.56" x2="409.56" y1="270.7" y2="284.8" stroke="#ef5350" stroke-width="0.9" opacity="0.8"/>
<rect x="408.26" y="273.50" width="2.6" height="8.30" fill="#ef5350"/>
<line x1="413.23" x2="413.23" y1="265.7" y2="287.3" stroke="#26a69a" stroke-width="0.9" opacity="0.8"/>
<rect x="411.93" y="271.90" width="2.6" height="9.90" fill="#26a69a"/>
<line x1="416.90" x2="416.90" y1="269.9" y2="285.6" stroke="#ef5350" stroke-width="0.9" opacity="0.8"/>
<rect x="415.60" y="271.90" width="2.6" height="7.90" fill="#ef5350"/>
<line x1="420.58" x2="420.58" y1="279.5" y2="295.3" stroke="#ef5350" stroke-width="0.9" opacity="0.8"/>
<rect x="419.28" y="279.80" width="2.6" height="10.80" fill="#ef5350"/>
<line x1="424.25" x2="424.25" y1="290.0" y2="304.0" stroke="#ef5350" stroke-width="0.9" opacity="0.8"/>
<rect x="422.95" y="290.50" width="2.6" height="2.40" fill="#ef5350"/>
<line x1="427.92" x2="427.92" y1="282.3" y2="297.4" stroke="#26a69a" stroke-width="0.9" opacity="0.8"/>
<rect x="426.62" y="288.00" width="2.6" height="4.90" fill="#26a69a"/>
<line x1="431.59" x2="431.59" y1="275.2" y2="292.8" stroke="#26a69a" stroke-width="0.9" opacity="0.8"/>
<rect x="430.29" y="284.80" width="2.6" height="3.30" fill="#26a69a"/>
<line x1="435.27" x2="435.27" y1="269.0" y2="287.3" stroke="#26a69a" stroke-width="0.9" opacity="0.8"/>
<rect x="433.97" y="276.80" width="2.6" height="8.00" fill="#26a69a"/>
<line x1="438.94" x2="438.94" y1="269.9" y2="278.2" stroke="#26a69a" stroke-width="0.9" opacity="0.8"/>
<rect x="437.64" y="274.50" width="2.6" height="2.30" fill="#26a69a"/>
<line x1="442.61" x2="442.61" y1="255.2" y2="275.7" stroke="#26a69a" stroke-width="0.9" opacity="0.8"/>
<rect x="441.31" y="258.20" width="2.6" height="16.30" fill="#26a69a"/>
<line x1="446.29" x2="446.29" y1="258.0" y2="275.5" stroke="#ef5350" stroke-width="0.9" opacity="0.8"/>
<rect x="444.99" y="258.20" width="2.6" height="16.70" fill="#ef5350"/>
<line x1="449.96" x2="449.96" y1="266.5" y2="276.5" stroke="#26a69a" stroke-width="0.9" opacity="0.8"/>
<rect x="448.66" y="272.60" width="2.6" height="1.80" fill="#26a69a"/>
<line x1="453.63" x2="453.63" y1="272.5" y2="278.5" stroke="#ef5350" stroke-width="0.9" opacity="0.8"/>
<rect x="452.33" y="272.90" width="2.6" height="5.30" fill="#ef5350"/>
<line x1="457.31" x2="457.31" y1="277.3" y2="286.5" stroke="#ef5350" stroke-width="0.9" opacity="0.8"/>
<rect x="456.01" y="277.75" width="2.6" height="1.80" fill="#ef5350"/>
<line x1="460.98" x2="460.98" y1="277.3" y2="284.5" stroke="#ef5350" stroke-width="0.9" opacity="0.8"/>
<rect x="459.68" y="279.50" width="2.6" height="4.00" fill="#ef5350"/>
<line x1="464.65" x2="464.65" y1="276.2" y2="284.8" stroke="#26a69a" stroke-width="0.9" opacity="0.8"/>
<rect x="463.35" y="276.80" width="2.6" height="6.70" fill="#26a69a"/>
<line x1="468.32" x2="468.32" y1="275.7" y2="279.0" stroke="#ef5350" stroke-width="0.9" opacity="0.8"/>
<rect x="467.02" y="276.40" width="2.6" height="1.80" fill="#ef5350"/>
<line x1="472.00" x2="472.00" y1="277.8" y2="337.3" stroke="#ef5350" stroke-width="0.9" opacity="0.8"/>
<rect x="470.70" y="278.20" width="2.6" height="36.70" fill="#ef5350"/>
<line x1="475.67" x2="475.67" y1="308.3" y2="322.4" stroke="#ef5350" stroke-width="0.9" opacity="0.8"/>
<rect x="474.37" y="314.90" width="2.6" height="4.20" fill="#ef5350"/>
<line x1="479.34" x2="479.34" y1="301.6" y2="322.4" stroke="#26a69a" stroke-width="0.9" opacity="0.8"/>
<rect x="478.04" y="306.30" width="2.6" height="12.80" fill="#26a69a"/>
<line x1="483.02" x2="483.02" y1="303.6" y2="319.1" stroke="#ef5350" stroke-width="0.9" opacity="0.8"/>
<rect x="481.72" y="305.40" width="2.6" height="1.80" fill="#ef5350"/>
<line x1="486.69" x2="486.69" y1="302.9" y2="312.4" stroke="#ef5350" stroke-width="0.9" opacity="0.8"/>
<rect x="485.39" y="306.60" width="2.6" height="3.00" fill="#ef5350"/>
<line x1="490.36" x2="490.36" y1="277.3" y2="311.3" stroke="#26a69a" stroke-width="0.9" opacity="0.8"/>
<rect x="489.06" y="298.30" width="2.6" height="11.30" fill="#26a69a"/>
<line x1="494.04" x2="494.04" y1="291.5" y2="303.4" stroke="#26a69a" stroke-width="0.9" opacity="0.8"/>
<rect x="492.74" y="296.60" width="2.6" height="1.80" fill="#26a69a"/>
<line x1="497.71" x2="497.71" y1="296.5" y2="303.4" stroke="#ef5350" stroke-width="0.9" opacity="0.8"/>
<rect x="496.41" y="296.60" width="2.6" height="1.80" fill="#ef5350"/>
<line x1="501.38" x2="501.38" y1="297.0" y2="307.3" stroke="#ef5350" stroke-width="0.9" opacity="0.8"/>
<rect x="500.08" y="298.10" width="2.6" height="8.40" fill="#ef5350"/>
<line x1="505.06" x2="505.06" y1="302.9" y2="310.0" stroke="#ef5350" stroke-width="0.9" opacity="0.8"/>
<rect x="503.75" y="305.75" width="2.6" height="1.80" fill="#ef5350"/>
<line x1="508.73" x2="508.73" y1="306.5" y2="328.9" stroke="#ef5350" stroke-width="0.9" opacity="0.8"/>
<rect x="507.43" y="307.80" width="2.6" height="7.00" fill="#ef5350"/>
<line x1="512.40" x2="512.40" y1="313.9" y2="323.6" stroke="#ef5350" stroke-width="0.9" opacity="0.8"/>
<rect x="511.10" y="315.30" width="2.6" height="2.80" fill="#ef5350"/>
<line x1="516.07" x2="516.07" y1="311.3" y2="323.6" stroke="#ef5350" stroke-width="0.9" opacity="0.8"/>
<rect x="514.77" y="318.10" width="2.6" height="2.90" fill="#ef5350"/>
<line x1="519.75" x2="519.75" y1="318.8" y2="326.7" stroke="#ef5350" stroke-width="0.9" opacity="0.8"/>
<rect x="518.45" y="321.30" width="2.6" height="2.80" fill="#ef5350"/>
<line x1="523.42" x2="523.42" y1="321.4" y2="329.4" stroke="#ef5350" stroke-width="0.9" opacity="0.8"/>
<rect x="522.12" y="323.60" width="2.6" height="1.80" fill="#ef5350"/>
<line x1="527.09" x2="527.09" y1="320.1" y2="326.9" stroke="#ef5350" stroke-width="0.9" opacity="0.8"/>
<rect x="525.79" y="325.15" width="2.6" height="1.80" fill="#ef5350"/>
<line x1="530.77" x2="530.77" y1="316.1" y2="327.6" stroke="#26a69a" stroke-width="0.9" opacity="0.8"/>
<rect x="529.47" y="317.00" width="2.6" height="9.70" fill="#26a69a"/>
<line x1="534.44" x2="534.44" y1="315.3" y2="322.3" stroke="#ef5350" stroke-width="0.9" opacity="0.8"/>
<rect x="533.14" y="317.00" width="2.6" height="3.60" fill="#ef5350"/>
<line x1="538.11" x2="538.11" y1="320.1" y2="326.3" stroke="#ef5350" stroke-width="0.9" opacity="0.8"/>
<rect x="536.81" y="321.00" width="2.6" height="4.00" fill="#ef5350"/>
<line x1="541.79" x2="541.79" y1="317.5" y2="328.5" stroke="#26a69a" stroke-width="0.9" opacity="0.8"/>
<rect x="540.49" y="318.10" width="2.6" height="6.40" fill="#26a69a"/>
<line x1="545.46" x2="545.46" y1="303.8" y2="318.8" stroke="#26a69a" stroke-width="0.9" opacity="0.8"/>
<rect x="544.16" y="305.10" width="2.6" height="13.00" fill="#26a69a"/>
<line x1="549.13" x2="549.13" y1="287.4" y2="309.1" stroke="#26a69a" stroke-width="0.9" opacity="0.8"/>
<rect x="547.83" y="289.00" width="2.6" height="16.10" fill="#26a69a"/>
<line x1="552.80" x2="552.80" y1="272.9" y2="291.5" stroke="#26a69a" stroke-width="0.9" opacity="0.8"/>
<rect x="551.50" y="276.20" width="2.6" height="12.80" fill="#26a69a"/>
<line x1="556.48" x2="556.48" y1="269.1" y2="289.5" stroke="#26a69a" stroke-width="0.9" opacity="0.8"/>
<rect x="555.18" y="275.30" width="2.6" height="1.80" fill="#26a69a"/>
<line x1="560.15" x2="560.15" y1="271.3" y2="284.1" stroke="#26a69a" stroke-width="0.9" opacity="0.8"/>
<rect x="558.85" y="274.80" width="2.6" height="1.80" fill="#26a69a"/>
<line x1="563.82" x2="563.82" y1="270.8" y2="279.9" stroke="#26a69a" stroke-width="0.9" opacity="0.8"/>
<rect x="562.52" y="273.35" width="2.6" height="1.80" fill="#26a69a"/>
<line x1="567.50" x2="567.50" y1="217.9" y2="273.5" stroke="#26a69a" stroke-width="0.9" opacity="0.8"/>
<rect x="566.20" y="227.40" width="2.6" height="45.50" fill="#26a69a"/>
<line x1="571.17" x2="571.17" y1="212.4" y2="244.0" stroke="#ef5350" stroke-width="0.9" opacity="0.8"/>
<rect x="569.87" y="227.40" width="2.6" height="2.80" fill="#ef5350"/>
<line x1="574.84" x2="574.84" y1="217.4" y2="237.3" stroke="#26a69a" stroke-width="0.9" opacity="0.8"/>
<rect x="573.54" y="228.10" width="2.6" height="1.80" fill="#26a69a"/>
<line x1="578.52" x2="578.52" y1="212.9" y2="234.0" stroke="#26a69a" stroke-width="0.9" opacity="0.8"/>
<rect x="577.22" y="227.00" width="2.6" height="1.80" fill="#26a69a"/>
<line x1="582.19" x2="582.19" y1="219.9" y2="248.5" stroke="#ef5350" stroke-width="0.9" opacity="0.8"/>
<rect x="580.89" y="227.90" width="2.6" height="20.20" fill="#ef5350"/>
<line x1="585.86" x2="585.86" y1="223.2" y2="254.5" stroke="#26a69a" stroke-width="0.9" opacity="0.8"/>
<rect x="584.56" y="241.50" width="2.6" height="6.60" fill="#26a69a"/>
<line x1="589.53" x2="589.53" y1="236.5" y2="253.0" stroke="#ef5350" stroke-width="0.9" opacity="0.8"/>
<rect x="588.23" y="241.50" width="2.6" height="4.60" fill="#ef5350"/>
<line x1="593.21" x2="593.21" y1="245.5" y2="258.2" stroke="#ef5350" stroke-width="0.9" opacity="0.8"/>
<rect x="591.91" y="246.10" width="2.6" height="2.90" fill="#ef5350"/>
<line x1="596.88" x2="596.88" y1="239.0" y2="249.0" stroke="#26a69a" stroke-width="0.9" opacity="0.8"/>
<rect x="595.58" y="247.20" width="2.6" height="1.80" fill="#26a69a"/>
<line x1="600.55" x2="600.55" y1="233.2" y2="252.8" stroke="#26a69a" stroke-width="0.9" opacity="0.8"/>
<rect x="599.25" y="238.20" width="2.6" height="9.90" fill="#26a69a"/>
<line x1="604.23" x2="604.23" y1="219.6" y2="239.8" stroke="#26a69a" stroke-width="0.9" opacity="0.8"/>
<rect x="602.93" y="223.20" width="2.6" height="15.00" fill="#26a69a"/>
<line x1="607.90" x2="607.90" y1="219.0" y2="232.3" stroke="#ef5350" stroke-width="0.9" opacity="0.8"/>
<rect x="606.60" y="223.20" width="2.6" height="4.70" fill="#ef5350"/>
<line x1="611.57" x2="611.57" y1="199.6" y2="230.7" stroke="#26a69a" stroke-width="0.9" opacity="0.8"/>
<rect x="610.27" y="204.90" width="2.6" height="23.00" fill="#26a69a"/>
<line x1="615.25" x2="615.25" y1="194.1" y2="232.3" stroke="#ef5350" stroke-width="0.9" opacity="0.8"/>
<rect x="613.95" y="204.90" width="2.6" height="2.00" fill="#ef5350"/>
<line x1="618.92" x2="618.92" y1="192.5" y2="220.7" stroke="#ef5350" stroke-width="0.9" opacity="0.8"/>
<rect x="617.62" y="206.90" width="2.6" height="5.50" fill="#ef5350"/>
<line x1="622.59" x2="622.59" y1="209.1" y2="232.3" stroke="#ef5350" stroke-width="0.9" opacity="0.8"/>
<rect x="621.29" y="212.40" width="2.6" height="5.50" fill="#ef5350"/>
<line x1="626.26" x2="626.26" y1="211.6" y2="220.7" stroke="#26a69a" stroke-width="0.9" opacity="0.8"/>
<rect x="624.96" y="216.50" width="2.6" height="1.80" fill="#26a69a"/>
<line x1="629.94" x2="629.94" y1="217.0" y2="233.2" stroke="#ef5350" stroke-width="0.9" opacity="0.8"/>
<rect x="628.64" y="217.40" width="2.6" height="11.10" fill="#ef5350"/>
<line x1="633.61" x2="633.61" y1="222.4" y2="271.6" stroke="#ef5350" stroke-width="0.9" opacity="0.8"/>
<rect x="632.31" y="228.50" width="2.6" height="25.70" fill="#ef5350"/>
<line x1="637.28" x2="637.28" y1="244.0" y2="265.8" stroke="#26a69a" stroke-width="0.9" opacity="0.8"/>
<rect x="635.98" y="247.30" width="2.6" height="6.90" fill="#26a69a"/>
<line x1="640.96" x2="640.96" y1="242.3" y2="260.0" stroke="#ef5350" stroke-width="0.9" opacity="0.8"/>
<rect x="639.66" y="246.80" width="2.6" height="8.20" fill="#ef5350"/>
<line x1="644.63" x2="644.63" y1="252.3" y2="266.6" stroke="#ef5350" stroke-width="0.9" opacity="0.8"/>
<rect x="643.33" y="254.50" width="2.6" height="1.80" fill="#ef5350"/>
<line x1="648.30" x2="648.30" y1="253.1" y2="262.0" stroke="#ef5350" stroke-width="0.9" opacity="0.8"/>
<rect x="647.00" y="255.80" width="2.6" height="5.80" fill="#ef5350"/>
<line x1="651.98" x2="651.98" y1="253.9" y2="264.1" stroke="#26a69a" stroke-width="0.9" opacity="0.8"/>
<rect x="650.68" y="254.20" width="2.6" height="7.40" fill="#26a69a"/>
<line x1="655.65" x2="655.65" y1="244.0" y2="257.0" stroke="#ef5350" stroke-width="0.9" opacity="0.8"/>
<rect x="654.35" y="254.20" width="2.6" height="2.40" fill="#ef5350"/>
<line x1="659.32" x2="659.32" y1="255.6" y2="260.3" stroke="#ef5350" stroke-width="0.9" opacity="0.8"/>
<rect x="658.02" y="256.60" width="2.6" height="2.50" fill="#ef5350"/>
<line x1="662.99" x2="662.99" y1="249.0" y2="260.3" stroke="#ef5350" stroke-width="0.9" opacity="0.8"/>
<rect x="661.69" y="258.20" width="2.6" height="1.80" fill="#ef5350"/>
<line x1="666.67" x2="666.67" y1="259.3" y2="271.5" stroke="#ef5350" stroke-width="0.9" opacity="0.8"/>
<rect x="665.37" y="259.60" width="2.6" height="7.00" fill="#ef5350"/>
<line x1="670.34" x2="670.34" y1="266.0" y2="283.5" stroke="#ef5350" stroke-width="0.9" opacity="0.8"/>
<rect x="669.04" y="266.60" width="2.6" height="10.80" fill="#ef5350"/>
<line x1="674.01" x2="674.01" y1="270.7" y2="282.4" stroke="#26a69a" stroke-width="0.9" opacity="0.8"/>
<rect x="672.71" y="273.60" width="2.6" height="3.80" fill="#26a69a"/>
<line x1="677.69" x2="677.69" y1="264.9" y2="297.3" stroke="#ef5350" stroke-width="0.9" opacity="0.8"/>
<rect x="676.39" y="273.60" width="2.6" height="14.30" fill="#ef5350"/>
<line x1="681.36" x2="681.36" y1="259.1" y2="292.3" stroke="#26a69a" stroke-width="0.9" opacity="0.8"/>
<rect x="680.06" y="263.30" width="2.6" height="24.60" fill="#26a69a"/>
<line x1="685.03" x2="685.03" y1="256.6" y2="266.6" stroke="#26a69a" stroke-width="0.9" opacity="0.8"/>
<rect x="683.73" y="259.60" width="2.6" height="3.30" fill="#26a69a"/>
<line x1="688.71" x2="688.71" y1="257.5" y2="276.6" stroke="#ef5350" stroke-width="0.9" opacity="0.8"/>
<rect x="687.41" y="259.10" width="2.6" height="10.50" fill="#ef5350"/>
<line x1="692.38" x2="692.38" y1="264.1" y2="291.5" stroke="#ef5350" stroke-width="0.9" opacity="0.8"/>
<rect x="691.08" y="269.60" width="2.6" height="18.90" fill="#ef5350"/>
<line x1="696.05" x2="696.05" y1="284.5" y2="312.8" stroke="#ef5350" stroke-width="0.9" opacity="0.8"/>
<rect x="694.75" y="288.50" width="2.6" height="5.50" fill="#ef5350"/>
<line x1="699.72" x2="699.72" y1="288.5" y2="295.7" stroke="#26a69a" stroke-width="0.9" opacity="0.8"/>
<rect x="698.42" y="291.75" width="2.6" height="1.80" fill="#26a69a"/>
<line x1="703.40" x2="703.40" y1="271.2" y2="293.5" stroke="#26a69a" stroke-width="0.9" opacity="0.8"/>
<rect x="702.10" y="276.20" width="2.6" height="15.60" fill="#26a69a"/>
<line x1="707.07" x2="707.07" y1="275.5" y2="293.5" stroke="#ef5350" stroke-width="0.9" opacity="0.8"/>
<rect x="705.77" y="275.70" width="2.6" height="17.50" fill="#ef5350"/>
<line x1="710.74" x2="710.74" y1="289.5" y2="301.8" stroke="#26a69a" stroke-width="0.9" opacity="0.8"/>
<rect x="709.44" y="290.30" width="2.6" height="1.80" fill="#26a69a"/>
<line x1="714.42" x2="714.42" y1="281.9" y2="292.3" stroke="#ef5350" stroke-width="0.9" opacity="0.8"/>
<rect x="713.12" y="289.00" width="2.6" height="1.80" fill="#ef5350"/>
<line x1="718.09" x2="718.09" y1="283.2" y2="294.0" stroke="#26a69a" stroke-width="0.9" opacity="0.8"/>
<rect x="716.79" y="286.20" width="2.6" height="3.70" fill="#26a69a"/>
<line x1="721.76" x2="721.76" y1="266.9" y2="287.4" stroke="#26a69a" stroke-width="0.9" opacity="0.8"/>
<rect x="720.46" y="272.40" width="2.6" height="13.30" fill="#26a69a"/>
<line x1="725.44" x2="725.44" y1="272.0" y2="292.3" stroke="#ef5350" stroke-width="0.9" opacity="0.8"/>
<rect x="724.14" y="272.40" width="2.6" height="11.60" fill="#ef5350"/>
<line x1="729.11" x2="729.11" y1="280.7" y2="292.3" stroke="#ef5350" stroke-width="0.9" opacity="0.8"/>
<rect x="727.81" y="284.00" width="2.6" height="2.50" fill="#ef5350"/>
<line x1="732.78" x2="732.78" y1="279.9" y2="289.0" stroke="#26a69a" stroke-width="0.9" opacity="0.8"/>
<rect x="731.48" y="281.90" width="2.6" height="4.60" fill="#26a69a"/>
<line x1="736.45" x2="736.45" y1="281.5" y2="298.2" stroke="#ef5350" stroke-width="0.9" opacity="0.8"/>
<rect x="735.15" y="281.90" width="2.6" height="8.00" fill="#ef5350"/>
<line x1="740.13" x2="740.13" y1="282.4" y2="293.2" stroke="#ef5350" stroke-width="0.9" opacity="0.8"/>
<rect x="738.83" y="289.50" width="2.6" height="2.00" fill="#ef5350"/>
<line x1="743.80" x2="743.80" y1="215.7" y2="295.7" stroke="#26a69a" stroke-width="0.9" opacity="0.8"/>
<rect x="742.50" y="228.20" width="2.6" height="63.30" fill="#26a69a"/>
<line x1="747.47" x2="747.47" y1="191.5" y2="242.3" stroke="#26a69a" stroke-width="0.9" opacity="0.8"/>
<rect x="746.17" y="209.10" width="2.6" height="18.80" fill="#26a69a"/>
<line x1="751.15" x2="751.15" y1="153.3" y2="209.0" stroke="#26a69a" stroke-width="0.9" opacity="0.8"/>
<rect x="749.85" y="167.40" width="2.6" height="41.20" fill="#26a69a"/>
<line x1="754.82" x2="754.82" y1="153.3" y2="184.0" stroke="#26a69a" stroke-width="0.9" opacity="0.8"/>
<rect x="753.52" y="154.10" width="2.6" height="12.50" fill="#26a69a"/>
<line x1="758.49" x2="758.49" y1="138.0" y2="163.2" stroke="#26a69a" stroke-width="0.9" opacity="0.8"/>
<rect x="757.19" y="150.00" width="2.6" height="3.60" fill="#26a69a"/>
<line x1="762.17" x2="762.17" y1="149.5" y2="179.9" stroke="#ef5350" stroke-width="0.9" opacity="0.8"/>
<rect x="760.87" y="150.00" width="2.6" height="9.10" fill="#ef5350"/>
<line x1="765.84" x2="765.84" y1="157.4" y2="199.0" stroke="#ef5350" stroke-width="0.9" opacity="0.8"/>
<rect x="764.54" y="159.10" width="2.6" height="24.10" fill="#ef5350"/>
<line x1="769.51" x2="769.51" y1="174.9" y2="188.2" stroke="#ef5350" stroke-width="0.9" opacity="0.8"/>
<rect x="768.21" y="183.20" width="2.6" height="3.60" fill="#ef5350"/>
<line x1="773.18" x2="773.18" y1="157.4" y2="189.8" stroke="#26a69a" stroke-width="0.9" opacity="0.8"/>
<rect x="771.88" y="159.90" width="2.6" height="26.30" fill="#26a69a"/>
<line x1="776.86" x2="776.86" y1="154.1" y2="183.2" stroke="#ef5350" stroke-width="0.9" opacity="0.8"/>
<rect x="775.56" y="159.90" width="2.6" height="12.50" fill="#ef5350"/>
<line x1="780.53" x2="780.53" y1="152.4" y2="184.0" stroke="#26a69a" stroke-width="0.9" opacity="0.8"/>
<rect x="779.23" y="170.60" width="2.6" height="1.80" fill="#26a69a"/>
<line x1="784.20" x2="784.20" y1="159.1" y2="175.5" stroke="#ef5350" stroke-width="0.9" opacity="0.8"/>
<rect x="782.90" y="170.20" width="2.6" height="4.70" fill="#ef5350"/>
<line x1="787.88" x2="787.88" y1="170.7" y2="200.6" stroke="#ef5350" stroke-width="0.9" opacity="0.8"/>
<rect x="786.58" y="174.90" width="2.6" height="18.80" fill="#ef5350"/>
<line x1="791.55" x2="791.55" y1="190.9" y2="244.8" stroke="#ef5350" stroke-width="0.9" opacity="0.8"/>
<rect x="790.25" y="194.00" width="2.6" height="18.40" fill="#ef5350"/>
<line x1="795.22" x2="795.22" y1="190.4" y2="214.6" stroke="#26a69a" stroke-width="0.9" opacity="0.8"/>
<rect x="793.92" y="198.90" width="2.6" height="12.70" fill="#26a69a"/>
<line x1="798.90" x2="798.90" y1="190.4" y2="203.0" stroke="#ef5350" stroke-width="0.9" opacity="0.8"/>
<rect x="797.60" y="197.30" width="2.6" height="1.80" fill="#ef5350"/>
<line x1="802.57" x2="802.57" y1="154.5" y2="229.9" stroke="#26a69a" stroke-width="0.9" opacity="0.8"/>
<rect x="801.27" y="154.90" width="2.6" height="43.20" fill="#26a69a"/>
<line x1="806.24" x2="806.24" y1="151.6" y2="207.4" stroke="#ef5350" stroke-width="0.9" opacity="0.8"/>
<rect x="804.94" y="154.90" width="2.6" height="50.90" fill="#ef5350"/>
<line x1="809.91" x2="809.91" y1="198.1" y2="217.4" stroke="#ef5350" stroke-width="0.9" opacity="0.8"/>
<rect x="808.61" y="206.30" width="2.6" height="2.20" fill="#ef5350"/>
<line x1="813.59" x2="813.59" y1="201.0" y2="211.6" stroke="#26a69a" stroke-width="0.9" opacity="0.8"/>
<rect x="812.29" y="207.10" width="2.6" height="1.80" fill="#26a69a"/>
<line x1="817.26" x2="817.26" y1="198.9" y2="216.6" stroke="#ef5350" stroke-width="0.9" opacity="0.8"/>
<rect x="815.96" y="208.00" width="2.6" height="7.70" fill="#ef5350"/>
<line x1="820.93" x2="820.93" y1="207.4" y2="233.5" stroke="#ef5350" stroke-width="0.9" opacity="0.8"/>
<rect x="819.63" y="215.70" width="2.6" height="15.80" fill="#ef5350"/>
<line x1="824.61" x2="824.61" y1="214.1" y2="244.0" stroke="#26a69a" stroke-width="0.9" opacity="0.8"/>
<rect x="823.31" y="219.90" width="2.6" height="11.30" fill="#26a69a"/>
<line x1="828.28" x2="828.28" y1="216.3" y2="226.5" stroke="#ef5350" stroke-width="0.9" opacity="0.8"/>
<rect x="826.98" y="219.60" width="2.6" height="2.80" fill="#ef5350"/>
<line x1="831.95" x2="831.95" y1="202.5" y2="222.5" stroke="#26a69a" stroke-width="0.9" opacity="0.8"/>
<rect x="830.65" y="208.80" width="2.6" height="13.60" fill="#26a69a"/>
<line x1="835.62" x2="835.62" y1="205.0" y2="214.9" stroke="#ef5350" stroke-width="0.9" opacity="0.8"/>
<rect x="834.33" y="208.60" width="2.6" height="4.80" fill="#ef5350"/>
<line x1="839.30" x2="839.30" y1="188.2" y2="218.4" stroke="#26a69a" stroke-width="0.9" opacity="0.8"/>
<rect x="838.00" y="193.70" width="2.6" height="19.30" fill="#26a69a"/>
<line x1="842.97" x2="842.97" y1="186.0" y2="205.8" stroke="#ef5350" stroke-width="0.9" opacity="0.8"/>
<rect x="841.67" y="193.70" width="2.6" height="6.60" fill="#ef5350"/>
<line x1="846.64" x2="846.64" y1="188.7" y2="207.4" stroke="#26a69a" stroke-width="0.9" opacity="0.8"/>
<rect x="845.34" y="199.10" width="2.6" height="1.80" fill="#26a69a"/>
<line x1="850.32" x2="850.32" y1="198.1" y2="216.5" stroke="#ef5350" stroke-width="0.9" opacity="0.8"/>
<rect x="849.02" y="199.70" width="2.6" height="12.10" fill="#ef5350"/>
<line x1="853.99" x2="853.99" y1="208.0" y2="221.0" stroke="#ef5350" stroke-width="0.9" opacity="0.8"/>
<rect x="852.69" y="211.80" width="2.6" height="2.00" fill="#ef5350"/>
<line x1="857.66" x2="857.66" y1="204.7" y2="224.1" stroke="#ef5350" stroke-width="0.9" opacity="0.8"/>
<rect x="856.36" y="213.70" width="2.6" height="6.50" fill="#ef5350"/>
<line x1="861.34" x2="861.34" y1="216.6" y2="244.5" stroke="#ef5350" stroke-width="0.9" opacity="0.8"/>
<rect x="860.04" y="220.20" width="2.6" height="17.60" fill="#ef5350"/>
<line x1="865.01" x2="865.01" y1="227.9" y2="239.8" stroke="#26a69a" stroke-width="0.9" opacity="0.8"/>
<rect x="863.71" y="230.20" width="2.6" height="7.60" fill="#26a69a"/>
<line x1="868.68" x2="868.68" y1="229.8" y2="232.6" stroke="#ef5350" stroke-width="0.9" opacity="0.8"/>
<rect x="867.38" y="230.20" width="2.6" height="2.00" fill="#ef5350"/>
<clipPath id="cmain"><rect x="8" y="18.5" width="969.5" height="346.5"/></clipPath>
<g clip-path="url(#cmain)" fill="none" stroke-width="1">
<polyline points="218.56,248.4 222.23,247.4 225.91,246.6 229.58,245.9 233.25,245.3 236.93,244.5 240.60,243.0 244.27,241.6 247.94,240.5 251.62,239.7 255.29,239.0 258.96,238.5 262.64,238.1 266.31,237.9 269.98,237.9 273.66,238.1 277.33,238.0 281.00,238.1 284.68,238.2 288.35,238.3 292.02,238.5 295.69,238.6 299.37,238.8 303.04,238.9 306.71,238.9 310.39,238.9 314.06,238.9 317.73,239.0 321.40,239.2 325.08,239.3 328.75,239.4 332.42,239.5 336.10,239.7 339.77,239.9 343.44,240.2 347.12,240.5 350.79,240.9 354.46,241.1 358.13,241.4 361.81,241.8 365.48,242.2 369.15,242.6 372.83,243.1 376.50,243.5 380.17,244.1 383.85,244.6 387.52,245.2 391.19,245.6 394.87,246.0 398.54,246.2 402.21,246.5 405.88,246.7 409.56,247.0 413.23,247.2 416.90,247.5 420.58,247.9 424.25,248.2 427.92,248.6 431.59,248.9 435.27,249.1 438.94,249.4 442.61,249.4 446.29,249.7 449.96,249.9 453.63,250.1 457.31,250.4 460.98,250.7 464.65,250.9 468.32,251.1 472.00,251.6 475.67,252.1 479.34,252.5 483.02,253.0 486.69,253.4 490.36,253.8 494.04,254.1 497.71,254.5 501.38,254.9 505.06,255.3 508.73,255.8 512.40,256.3 516.07,256.8 519.75,257.3 523.42,257.8 527.09,258.3 530.77,258.7 534.44,259.2 538.11,259.7 541.79,260.2 545.46,260.5 549.13,260.8 552.80,260.9 556.48,261.1 560.15,261.2 563.82,261.3 567.50,260.9 571.17,260.6 574.84,260.2 578.52,259.8 582.19,259.7 585.86,259.5 589.53,259.4 593.21,259.2 596.88,259.1 600.55,258.9 604.23,258.5 607.90,258.1 611.57,257.4 615.25,256.8 618.92,256.3 622.59,255.8 626.26,255.4 629.94,255.1 633.61,255.0 637.28,255.0 640.96,255.0 644.63,255.0 648.30,255.0 651.98,255.0 655.65,255.0 659.32,255.1 662.99,255.1 666.67,255.2 670.34,255.4 674.01,255.6 677.69,255.9 681.36,256.0 685.03,256.0 688.71,256.1 692.38,256.4 696.05,256.7 699.72,257.0 703.40,257.2 707.07,257.5 710.74,257.8 714.42,258.1 718.09,258.3 721.76,258.4 725.44,258.7 729.11,258.9 732.78,259.1 736.45,259.4 740.13,259.7 743.80,259.3 747.47,258.7 751.15,257.3 754.82,255.6 758.49,253.9 762.17,252.4 765.84,251.4 769.51,250.6 773.18,249.2 776.86,248.1 780.53,247.0 784.20,246.0 787.88,245.3 791.55,244.9 795.22,244.4 798.90,243.8 802.57,242.5 806.24,242.0 809.91,241.6 813.59,241.2 817.26,241.0 820.93,240.9 824.61,240.6 828.28,240.4 831.95,240.1 835.62,239.8 839.30,239.2 842.97,238.7 846.64,238.3 850.32,238.0 853.99,237.7 857.66,237.5 861.34,237.5 865.01,237.5 868.68,237.4" stroke="#6060f2"/>
<polyline points="9.20,428.1 12.87,422.0 16.55,416.7 20.22,412.0 23.89,401.8 27.57,389.7 31.24,375.3 34.91,360.2 38.58,349.1 42.26,340.0 45.93,330.6 49.60,321.9 53.28,314.2 56.95,306.4 60.62,299.2 64.30,293.9 67.97,287.3 71.64,278.7 75.31,267.9 78.99,263.2 82.66,257.5 86.33,251.7 90.01,246.8 93.68,242.8 97.35,239.3 101.03,235.6 104.70,232.5 108.37,230.1 112.04,227.6 115.72,225.0 119.39,222.1 123.06,216.7 126.74,210.0 130.41,203.4 134.08,197.3 137.75,192.3 141.43,188.4 145.10,184.9 148.77,181.5 152.45,178.3 156.12,175.4 159.79,172.7 163.47,170.5 167.14,168.2 170.81,166.0 174.48,164.3 178.16,163.2 181.83,162.5 185.50,161.9 189.18,161.6 192.85,160.8 196.52,160.2 200.20,160.1 203.87,159.4 207.54,159.4 211.22,159.5 214.89,159.4 218.56,159.5 222.23,159.8 225.91,160.3 229.58,160.8 233.25,161.4 236.93,161.8 240.60,161.6 244.27,161.4 247.94,161.5 251.62,161.8 255.29,162.2 258.96,162.8 262.64,163.4 266.31,164.4 269.98,165.5 273.66,166.6 277.33,167.6 281.00,168.8 284.68,169.9 288.35,171.1 292.02,172.2 295.69,173.4 299.37,174.6 303.04,175.6 306.71,176.6 310.39,177.6 314.06,178.5 317.73,179.6 321.40,180.7 325.08,181.7 328.75,182.7 332.42,183.8 336.10,184.9 339.77,186.0 343.44,187.1 347.12,188.4 350.79,189.6 354.46,190.8 358.13,191.9 361.81,193.2 365.48,194.6 369.15,195.9 372.83,197.2 376.50,198.6 380.17,200.0 383.85,201.5 387.52,203.0 391.19,204.3 394.87,205.5 398.54,206.5 402.21,207.5 405.88,208.5 409.56,209.6 413.23,210.5 416.90,211.5 420.58,212.7 424.25,213.8 427.92,214.9 431.59,215.9 435.27,216.8 438.94,217.7 442.61,218.4 446.29,219.3 449.96,220.1 453.63,221.0 457.31,221.9 460.98,222.9 464.65,223.7 468.32,224.6 472.00,225.8 475.67,227.1 479.34,228.2 483.02,229.3 486.69,230.5 490.36,231.5 494.04,232.4 497.71,233.4 501.38,234.5 505.06,235.6 508.73,236.7 512.40,237.8 516.07,239.0 519.75,240.2 523.42,241.4 527.09,242.6 530.77,243.6 534.44,244.7 538.11,245.9 541.79,246.9 545.46,247.8 549.13,248.5 552.80,249.0 556.48,249.5 560.15,249.9 563.82,250.4 567.50,249.9 571.17,249.4 574.84,249.0 578.52,248.5 582.19,248.5 585.86,248.4 589.53,248.3 593.21,248.3 596.88,248.3 600.55,248.1 604.23,247.5 607.90,247.1 611.57,246.1 615.25,245.2 618.92,244.4 622.59,243.8 626.26,243.2 629.94,242.9 633.61,243.1 637.28,243.2 640.96,243.4 644.63,243.7 648.30,244.0 651.98,244.2 655.65,244.4 659.32,244.7 662.99,245.0 666.67,245.4 670.34,245.9 674.01,246.4 677.69,247.1 681.36,247.4 685.03,247.6 688.71,248.0 692.38,248.7 696.05,249.4 699.72,250.1 703.40,250.6 707.07,251.3 710.74,252.0 714.42,252.6 718.09,253.2 721.76,253.5 725.44,254.1 729.11,254.6 732.78,255.1 736.45,255.7 740.13,256.3 743.80,255.7 747.47,254.5 751.15,251.9 754.82,248.9 758.49,245.8 762.17,243.2 765.84,241.6 769.51,240.2 773.18,237.9 776.86,236.2 780.53,234.4 784.20,232.9 787.88,232.0 791.55,231.5 795.22,230.8 798.90,230.1 802.57,227.9 806.24,227.5 809.91,227.1 813.59,226.6 817.26,226.4 820.93,226.5 824.61,226.4 828.28,226.3 831.95,225.9 835.62,225.7 839.30,224.9 842.97,224.4 846.64,223.8 850.32,223.6 853.99,223.4 857.66,223.3 861.34,223.6 865.01,223.7 868.68,223.9" stroke="#5eedfc"/>
<polyline points="9.20,414.6 12.87,404.4 16.55,396.3 20.22,389.3 23.89,374.0 27.57,356.6 31.24,337.0 34.91,317.4 38.58,303.9 42.26,293.4 45.93,282.6 49.60,273.0 53.28,264.6 56.95,256.3 60.62,248.8 64.30,243.6 67.97,236.9 71.64,227.5 75.31,215.7 78.99,211.4 82.66,205.9 86.33,200.3 90.01,195.8 93.68,192.3 97.35,189.5 101.03,186.3 104.70,183.9 108.37,182.4 112.04,180.7 115.72,178.7 119.39,176.4 123.06,170.8 126.74,163.5 130.41,156.3 134.08,149.8 137.75,144.8 141.43,141.3 145.10,138.2 148.77,135.3 152.45,132.6 156.12,130.2 159.79,128.1 163.47,126.6 167.14,125.0 170.81,123.4 174.48,122.5 178.16,122.3 181.83,122.7 185.50,123.2 189.18,124.0 192.85,124.2 196.52,124.6 200.20,125.5 203.87,125.7 207.54,126.8 211.22,128.1 214.89,129.0 218.56,130.2 222.23,131.8 225.91,133.5 229.58,135.3 233.25,137.1 236.93,138.6 240.60,139.1 244.27,139.5 247.94,140.4 251.62,141.7 255.29,143.1 258.96,144.8 262.64,146.6 266.31,148.8 269.98,151.2 273.66,153.8 277.33,156.1 281.00,158.6 284.68,161.1 288.35,163.5 292.02,166.0 295.69,168.4 299.37,170.8 303.04,173.0 306.71,175.0 310.39,177.0 314.06,178.7 317.73,180.9 321.40,183.2 325.08,185.1 328.75,186.9 332.42,189.0 336.10,191.1 339.77,193.2 343.44,195.3 347.12,197.7 350.79,200.0 354.46,202.1 358.13,204.1 361.81,206.5 365.48,209.0 369.15,211.4 372.83,213.8 376.50,216.2 380.17,218.8 383.85,221.4 387.52,224.1 391.19,226.3 394.87,228.2 398.54,229.8 402.21,231.2 405.88,232.5 409.56,234.1 413.23,235.4 416.90,236.8 420.58,238.5 424.25,240.2 427.92,241.7 431.59,243.1 435.27,244.3 438.94,245.3 442.61,245.8 446.29,246.8 449.96,247.7 453.63,248.8 457.31,249.8 460.98,251.0 464.65,251.9 468.32,252.8 472.00,254.7 475.67,256.6 479.34,258.2 483.02,259.8 486.69,261.3 490.36,262.6 494.04,263.8 497.71,264.9 501.38,266.3 505.06,267.6 508.73,269.2 512.40,270.7 516.07,272.3 519.75,274.0 523.42,275.6 527.09,277.2 530.77,278.5 534.44,279.9 538.11,281.4 541.79,282.6 545.46,283.4 549.13,283.6 552.80,283.3 556.48,283.0 560.15,282.7 563.82,282.3 567.50,279.6 571.17,277.1 574.84,274.8 578.52,272.5 582.19,271.4 585.86,270.1 589.53,269.0 593.21,268.2 596.88,267.3 600.55,266.0 604.23,264.0 607.90,262.3 611.57,259.4 615.25,256.8 618.92,254.7 622.59,253.0 626.26,251.3 629.94,250.3 633.61,250.5 637.28,250.4 640.96,250.5 644.63,250.7 648.30,251.2 651.98,251.3 655.65,251.5 659.32,251.8 662.99,252.1 666.67,252.6 670.34,253.5 674.01,254.2 677.69,255.3 681.36,255.6 685.03,255.8 688.71,256.3 692.38,257.4 696.05,258.6 699.72,259.8 703.40,260.4 707.07,261.5 710.74,262.5 714.42,263.5 718.09,264.3 721.76,264.6 725.44,265.3 729.11,266.1 732.78,266.6 736.45,267.5 740.13,268.3 743.80,266.4 747.47,263.5 751.15,257.7 754.82,251.2 758.49,244.9 762.17,239.9 765.84,237.1 769.51,234.6 773.18,230.5 776.86,227.5 780.53,224.7 784.20,222.3 787.88,221.0 791.55,220.6 795.22,219.7 798.90,218.8 802.57,215.5 806.24,215.1 809.91,214.8 813.59,214.5 817.26,214.6 820.93,215.2 824.61,215.4 828.28,215.6 831.95,215.4 835.62,215.3 839.30,214.3 842.97,213.8 846.64,213.2 850.32,213.1 853.99,213.1 857.66,213.4 861.34,214.3 865.01,214.9 868.68,215.5" stroke="#ffa64d"/>
<polyline points="9.20,382.3 12.87,366.8 16.55,355.9 20.22,347.3 23.89,325.5 27.57,302.3 31.24,277.5 34.91,253.9 38.58,239.8 42.26,229.9 45.93,219.4 49.60,210.6 53.28,203.3 56.95,196.0 60.62,189.6 64.30,186.4 67.97,180.8 71.64,171.1 75.31,157.9 78.99,155.9 82.66,151.8 86.33,147.4 90.01,144.5 93.68,143.0 97.35,142.4 101.03,140.9 104.70,140.4 108.37,141.4 112.04,141.9 115.72,141.6 119.39,140.4 123.06,133.6 126.74,123.9 130.41,114.8 134.08,107.2 137.75,102.2 141.43,99.7 145.10,97.8 148.77,96.0 152.45,94.6 156.12,93.5 159.79,92.8 163.47,92.9 167.14,92.8 170.81,92.5 174.48,93.4 178.16,95.5 181.83,98.6 185.50,101.7 189.18,105.2 192.85,107.2 196.52,109.5 200.20,112.9 203.87,114.5 207.54,117.9 211.22,121.7 214.89,124.5 218.56,127.8 222.23,131.7 225.91,135.9 229.58,140.1 233.25,144.4 236.93,147.6 240.60,147.9 244.27,148.1 247.94,149.7 251.62,152.3 255.29,154.9 258.96,158.2 262.64,161.7 266.31,166.5 269.98,171.6 273.66,177.2 277.33,181.4 281.00,186.3 284.68,191.0 288.35,195.4 292.02,200.0 295.69,204.2 299.37,208.4 303.04,211.4 306.71,214.0 310.39,216.3 314.06,217.7 317.73,220.8 321.40,224.2 325.08,226.2 328.75,227.8 332.42,230.4 336.10,232.8 339.77,235.6 343.44,238.1 347.12,241.4 350.79,244.8 354.46,246.9 358.13,249.0 361.81,252.5 365.48,256.2 369.15,259.4 372.83,262.4 376.50,265.5 380.17,269.5 383.85,273.4 387.52,277.4 391.19,279.7 394.87,280.3 398.54,280.1 402.21,279.3 405.88,278.7 409.56,279.0 413.23,278.3 416.90,278.4 420.58,279.6 424.25,280.8 427.92,281.4 431.59,281.7 435.27,281.3 438.94,280.6 442.61,278.3 446.29,277.9 449.96,277.5 453.63,277.5 457.31,277.7 460.98,278.3 464.65,278.1 468.32,278.1 472.00,281.1 475.67,284.2 479.34,286.1 483.02,288.0 486.69,289.8 490.36,290.6 494.04,291.2 497.71,291.8 501.38,293.2 505.06,294.4 508.73,296.2 512.40,298.1 516.07,300.1 519.75,302.2 523.42,304.2 527.09,306.1 530.77,307.1 534.44,308.3 538.11,309.8 541.79,310.6 545.46,310.0 549.13,307.9 552.80,304.4 556.48,301.3 560.15,298.6 563.82,295.9 567.50,287.3 571.17,280.4 574.84,274.3 578.52,268.8 582.19,266.7 585.86,264.0 589.53,262.2 593.21,260.9 596.88,259.5 600.55,257.3 604.23,253.6 607.90,250.9 611.57,245.6 615.25,241.2 618.92,238.2 622.59,236.1 626.26,234.1 629.94,233.5 633.61,235.4 637.28,236.4 640.96,238.1 644.63,239.7 648.30,241.6 651.98,242.7 655.65,244.0 659.32,245.3 662.99,246.6 666.67,248.4 670.34,250.8 674.01,252.8 677.69,255.7 681.36,256.4 685.03,256.7 688.71,257.9 692.38,260.5 696.05,263.2 699.72,265.7 703.40,266.6 707.07,268.9 710.74,270.8 714.42,272.5 718.09,273.8 721.76,273.6 725.44,274.6 729.11,275.7 732.78,276.2 736.45,277.5 740.13,278.7 743.80,272.8 747.47,264.9 751.15,251.0 754.82,237.1 758.49,225.2 762.17,216.9 765.84,213.2 769.51,210.4 773.18,204.5 776.86,201.0 780.53,197.8 784.20,195.4 787.88,195.2 791.55,196.7 795.22,196.9 798.90,197.1 802.57,192.3 806.24,193.6 809.91,194.9 813.59,196.0 817.26,197.8 820.93,200.6 824.61,202.3 828.28,204.0 831.95,204.5 835.62,205.3 839.30,204.1 842.97,203.8 846.64,203.4 850.32,204.1 853.99,205.0 857.66,206.4 861.34,209.0 865.01,210.9 868.68,212.7" stroke="#f45b66"/>
</g>
<linearGradient id="gob" gradientUnits="userSpaceOnUse" x1="0" y1="370.6" x2="0" y2="360"><stop offset="0" stop-color="#4caf50" stop-opacity="0"/><stop offset="1" stop-color="#4caf50" stop-opacity="0.55"/></linearGradient>
<clipPath id="crsi"><rect x="8" y="365.5" width="969.5" height="43.5"/></clipPath>
<polygon clip-path="url(#crsi)" points="7.40,370.6 9.20,362.4 12.87,362.0 16.55,364.7 20.22,365.6 23.89,362.9 27.57,362.4 31.24,362.0 34.91,361.8 38.58,366.4 42.26,368.4 45.93,367.4 49.60,367.4 53.28,367.7 56.95,367.1 60.62,367.1 62.42,370.6" fill="url(#gob)"/>
<polygon clip-path="url(#crsi)" points="66.17,370.6 67.97,369.5 71.64,367.0 75.31,365.3 77.11,370.6" fill="url(#gob)"/>
<polygon clip-path="url(#crsi)" points="124.94,370.6 126.74,369.5 130.41,369.0 134.08,369.0 135.88,370.6" fill="url(#gob)"/>
<polygon clip-path="url(#crsi)" points="565.70,370.6 567.50,366.3 571.17,367.3 574.84,367.1 578.52,367.0 580.32,370.6" fill="url(#gob)"/>
<polygon clip-path="url(#crsi)" points="602.43,370.6 604.23,370.5 606.03,370.6" fill="url(#gob)"/>
<polygon clip-path="url(#crsi)" points="609.77,370.6 611.57,368.9 615.25,369.5 617.04,370.6" fill="url(#gob)"/>
<polygon clip-path="url(#crsi)" points="745.67,370.6 747.47,369.8 751.15,366.5 754.82,365.7 758.49,365.5 762.17,368.1 763.97,370.6" fill="url(#gob)"/>
<g clip-path="url(#crsi)" fill="none" stroke-width="1"><polyline points="9.20,368.9 12.87,368.0 16.55,367.3 20.22,366.6 23.89,365.8 27.57,365.1 31.24,364.6 34.91,364.1 38.58,364.0 42.26,364.2 45.93,364.3 49.60,364.4 53.28,364.6 56.95,364.8 60.62,365.1 64.30,365.8 67.97,366.1 71.64,366.2 75.31,366.4 78.99,367.3 82.66,368.2 86.33,369.1 90.01,369.7 93.68,370.2 97.35,370.9 101.03,371.5 104.70,372.2 108.37,373.1 112.04,374.0 115.72,374.4 119.39,375.0 123.06,375.4 126.74,375.8 130.41,375.2 134.08,374.8 137.75,374.6 141.43,374.5 145.10,374.4 148.77,374.3 152.45,374.2 156.12,374.1 159.79,373.9 163.47,373.8 167.14,373.8 170.81,373.8 174.48,374.4 178.16,375.4 181.83,376.5 185.50,377.8 189.18,378.9 192.85,379.6 196.52,380.2 200.20,381.1 203.87,381.7 207.54,382.5 211.22,383.4 214.89,383.9 218.56,384.6 222.23,385.5 225.91,386.1 229.58,386.6 233.25,386.9 236.93,387.0 240.60,386.4 244.27,386.2 247.94,386.1 251.62,386.0 255.29,386.2 258.96,386.3 262.64,386.3 266.31,386.6 269.98,386.9 273.66,387.2 277.33,387.2 281.00,387.3 284.68,387.3 288.35,387.5 292.02,388.3 295.69,389.1 299.37,389.7 303.04,390.0 306.71,390.2 310.39,390.2 314.06,390.0 317.73,389.9 321.40,389.8 325.08,389.3 328.75,389.0 332.42,388.8 336.10,388.5 339.77,388.4 343.44,388.2 347.12,388.1 350.79,388.1 354.46,388.0 358.13,387.9 361.81,388.1 365.48,388.6 369.15,388.7 372.83,388.7 376.50,389.1 380.17,389.7 383.85,390.1 387.52,390.6 391.19,390.5 394.87,390.2 398.54,389.5 402.21,388.7 405.88,388.2 409.56,387.8 413.23,387.0 416.90,386.3 420.58,385.9 424.25,385.5 427.92,385.0 431.59,384.3 435.27,383.4 438.94,382.5 442.61,381.6 446.29,381.3 449.96,381.1 453.63,381.1 457.31,381.1 460.98,381.1 464.65,381.1 468.32,380.9 472.00,381.2 475.67,381.4 479.34,381.6 483.02,381.8 486.69,382.2 490.36,382.4 494.04,382.9 497.71,383.2 501.38,383.5 505.06,383.8 508.73,384.2 512.40,384.6 516.07,385.2 519.75,385.8 523.42,385.9 527.09,385.9 530.77,385.9 534.44,385.9 538.11,386.0 541.79,386.1 545.46,385.9 549.13,385.2 552.80,384.1 556.48,383.1 560.15,381.9 563.82,380.8 567.50,379.0 571.17,377.4 574.84,375.9 578.52,374.4 582.19,373.8 585.86,373.0 589.53,372.3 593.21,371.8 596.88,371.5 600.55,371.4 604.23,371.2 607.90,371.2 611.57,370.9 615.25,370.7 618.92,371.1 622.59,371.5 626.26,372.0 629.94,372.7 633.61,373.2 637.28,373.7 640.96,374.2 644.63,374.7 648.30,375.2 651.98,375.8 655.65,376.7 659.32,377.5 662.99,378.6 666.67,379.8 670.34,381.0 674.01,382.0 677.69,383.2 681.36,383.7 685.03,383.5 688.71,383.7 692.38,383.9 696.05,384.3 699.72,384.5 703.40,384.5 707.07,384.8 710.74,384.9 714.42,385.0 718.09,385.0 721.76,384.4 725.44,384.2 729.11,383.8 732.78,383.8 736.45,384.1 740.13,384.2 743.80,382.9 747.47,381.4 751.15,379.7 754.82,378.3 758.49,376.7 762.17,375.5 765.84,374.8 769.51,374.2 773.18,373.6 776.86,373.1 780.53,372.5 784.20,372.1 787.88,371.8 791.55,371.6 795.22,372.1 798.90,372.7 802.57,373.2 806.24,374.3 809.91,375.5 813.59,376.4 817.26,376.9 820.93,377.5 824.61,378.3 828.28,378.9 831.95,379.4 835.62,379.9 839.30,379.8 842.97,379.7 846.64,379.7 850.32,379.8 853.99,380.5 857.66,380.6 861.34,380.8 865.01,381.0 868.68,381.1" stroke="#f5dc4a"/><polyline points="9.20,362.4 12.87,362.0 16.55,364.7 20.22,365.6 23.89,362.9 27.57,362.4 31.24,362.0 34.91,361.8 38.58,366.4 42.26,368.4 45.93,367.4 49.60,367.4 53.28,367.7 56.95,367.1 60.62,367.1 64.30,371.9 67.97,369.5 71.64,367.0 75.31,365.3 78.99,376.5 82.66,374.7 86.33,374.0 90.01,375.2 93.68,376.6 97.35,377.5 101.03,376.4 104.70,377.7 108.37,379.6 112.04,379.0 115.72,378.1 119.39,376.9 123.06,371.7 126.74,369.5 130.41,369.0 134.08,369.0 137.75,371.6 141.43,374.5 145.10,375.2 148.77,375.0 152.45,375.4 156.12,375.8 159.79,376.4 163.47,378.3 167.14,377.6 170.81,377.4 174.48,380.1 178.16,383.4 181.83,386.2 185.50,386.6 189.18,388.0 192.85,383.7 196.52,384.7 200.20,387.4 203.87,383.0 207.54,386.5 211.22,387.6 214.89,385.5 218.56,386.8 222.23,388.3 225.91,389.2 229.58,389.8 233.25,390.3 236.93,387.6 240.60,381.3 244.27,381.1 247.94,383.6 251.62,385.4 255.29,385.8 258.96,387.3 262.64,388.2 266.31,390.5 269.98,391.5 273.66,392.6 277.33,389.4 281.00,390.9 284.68,390.9 288.35,390.8 292.02,391.5 295.69,391.3 299.37,391.6 303.04,388.4 306.71,388.2 310.39,387.7 314.06,385.7 317.73,388.8 321.40,389.9 325.08,386.0 328.75,385.6 332.42,387.6 336.10,387.7 339.77,388.7 343.44,388.3 347.12,390.3 350.79,390.7 354.46,387.4 358.13,387.5 361.81,390.6 365.48,391.4 369.15,390.7 372.83,390.5 376.50,391.2 380.17,393.4 383.85,393.8 387.52,394.3 391.19,388.6 394.87,383.9 398.54,382.1 402.21,380.7 405.88,381.0 409.56,382.8 413.23,380.4 416.90,382.1 420.58,384.2 424.25,384.6 427.92,383.3 431.59,382.4 435.27,380.3 438.94,379.7 442.61,375.9 446.29,380.0 449.96,379.6 453.63,380.8 457.31,381.1 460.98,382.1 464.65,380.2 468.32,380.5 472.00,388.3 475.67,389.0 479.34,385.4 483.02,385.5 486.69,386.0 490.36,382.8 494.04,382.4 497.71,382.7 501.38,384.7 505.06,384.9 508.73,386.6 512.40,387.4 516.07,388.1 519.75,388.8 523.42,389.1 527.09,389.5 530.77,385.1 534.44,386.1 538.11,387.3 541.79,384.3 545.46,379.6 549.13,375.3 552.80,372.7 556.48,372.6 560.15,372.5 563.82,372.2 567.50,366.3 571.17,367.3 574.84,367.1 578.52,367.0 582.19,374.0 585.86,372.9 589.53,374.2 593.21,375.1 596.88,374.8 600.55,372.9 604.23,370.5 607.90,372.0 611.57,368.9 615.25,369.5 618.92,371.4 622.59,373.1 626.26,373.0 629.94,376.5 633.61,382.6 637.28,381.0 640.96,382.6 644.63,382.8 648.30,383.9 651.98,381.9 655.65,382.5 659.32,383.1 662.99,383.2 666.67,384.9 670.34,387.4 674.01,386.0 677.69,389.1 681.36,381.6 685.03,380.7 688.71,382.9 692.38,386.5 696.05,387.5 699.72,386.8 703.40,382.6 707.07,385.7 710.74,385.1 714.42,385.0 718.09,383.8 721.76,380.2 725.44,382.7 729.11,383.2 732.78,382.0 736.45,383.8 740.13,384.1 743.80,371.9 747.47,369.8 751.15,366.5 754.82,365.7 758.49,365.5 762.17,368.1 765.84,373.7 769.51,374.4 773.18,371.3 776.86,373.9 780.53,373.7 784.20,374.5 787.88,378.0 791.55,380.8 795.22,378.9 798.90,378.9 802.57,373.0 806.24,380.3 809.91,380.6 813.59,380.5 817.26,381.4 820.93,383.0 824.61,381.6 828.28,381.9 831.95,380.0 835.62,380.6 839.30,377.9 842.97,378.9 846.64,378.7 850.32,380.7 853.99,381.0 857.66,381.9 861.34,384.4 865.01,383.0 868.68,383.3" stroke="#7e57c2"/></g>
<line x1="8" x2="977" y1="232.3" y2="232.3" stroke="#ef5350" stroke-width="0.8" stroke-dasharray="1.2 2.3" opacity="0.75"/>
<rect x="215.2" y="197.6" width="672.2" height="5.8" rx="0.8" fill="rgba(156,39,176,0.18)" stroke="#c58ad9" stroke-width="0.9"/>
<line x1="215.6" x2="887" y1="203.3" y2="203.3" stroke="#b050cc" stroke-width="1"/>
<text x="7.3" y="13.7" font-size="8.4" fill="#24272e" textLength="275.7" lengthAdjust="spacingAndGlyphs" >Jake_Simmons created with TradingView.com, Jun 30, 2025 01:38 UTC-4</text>
<text x="12.8" y="32.8" font-size="8.2" fill="#4a4e59" textLength="135" lengthAdjust="spacingAndGlyphs" >Cardano / TetherUS · 1W · BINANCE</text>
<text x="153.7" y="32.8" font-size="8.2" fill="#4a4e59" textLength="5.2" lengthAdjust="spacingAndGlyphs" >O</text>
<text x="159" y="32.8" font-size="8.2" fill="#ee5a5f" textLength="25.5" lengthAdjust="spacingAndGlyphs" >0.5773</text>
<text x="189.7" y="32.8" font-size="8.2" fill="#4a4e59" textLength="5.3" lengthAdjust="spacingAndGlyphs" >H</text>
<text x="196" y="32.8" font-size="8.2" fill="#ee5a5f" textLength="25" lengthAdjust="spacingAndGlyphs" >0.5798</text>
<text x="226.2" y="32.8" font-size="8.2" fill="#4a4e59" textLength="4.0" lengthAdjust="spacingAndGlyphs" >L</text>
<text x="230.4" y="32.8" font-size="8.2" fill="#ee5a5f" textLength="25.6" lengthAdjust="spacingAndGlyphs" >0.5650</text>
<text x="260.7" y="32.8" font-size="8.2" fill="#4a4e59" textLength="4.6" lengthAdjust="spacingAndGlyphs" >C</text>
<text x="265.2" y="32.8" font-size="8.2" fill="#ee5a5f" textLength="25.8" lengthAdjust="spacingAndGlyphs" >0.5670</text>
<text x="296.8" y="32.8" font-size="8.2" fill="#ee5a5f" textLength="64.5" lengthAdjust="spacingAndGlyphs" >−0.0103 (−1.78%)</text>
<text x="12.8" y="44.6" font-size="8.2" fill="#4a4e59" textLength="34" lengthAdjust="spacingAndGlyphs" >Vol · ADA</text>
<text x="53.1" y="44.6" font-size="8.2" fill="#ee5a5f" textLength="28" lengthAdjust="spacingAndGlyphs" >26.42 M</text>
<text x="12.8" y="56.3" font-size="8.2" fill="#4a4e59" textLength="75.5" lengthAdjust="spacingAndGlyphs" >EMA 20/50/100/200</text>
<text x="93.75" y="56.3" font-size="8.2" fill="#f5333f" textLength="25.3" lengthAdjust="spacingAndGlyphs" >0.6778</text>
<text x="124.5" y="56.3" font-size="8.2" fill="#ff9800" textLength="25.2" lengthAdjust="spacingAndGlyphs" >0.6618</text>
<text x="155.2" y="56.3" font-size="8.2" fill="#22e3f5" textLength="25.1" lengthAdjust="spacingAndGlyphs" >0.6139</text>
<text x="185.8" y="56.3" font-size="8.2" fill="#2f2ff2" textLength="25.2" lengthAdjust="spacingAndGlyphs" >0.5439</text>
<text x="12.6" y="379.8" font-size="8.2" fill="#4a4e59" textLength="53.8" lengthAdjust="spacingAndGlyphs" >RSI (14, close)</text>
<text x="72.3" y="379.8" font-size="8.2" fill="#7e57c2" textLength="20.5" lengthAdjust="spacingAndGlyphs" >43.40</text>
<text x="97.7" y="379.8" font-size="8.2" fill="#f2d43a" textLength="19.5" lengthAdjust="spacingAndGlyphs" >47.27</text>
<g fill="none" stroke="#4a4e59" stroke-width="0.8"><circle cx="128.4" cy="377" r="2.9"/><line x1="125.6" y1="380.4" x2="131.2" y2="373.6"/><circle cx="141.6" cy="377" r="2.9"/><line x1="138.8" y1="380.4" x2="144.4" y2="373.6"/></g>
<text x="984.3" y="53.9" font-size="8.0" fill="#3d4049" textLength="22.5" lengthAdjust="spacingAndGlyphs" >2.9000</text>
<text x="984.3" y="79.7" font-size="8.0" fill="#3d4049" textLength="22.5" lengthAdjust="spacingAndGlyphs" >2.3000</text>
<text x="984.3" y="101.0" font-size="8.0" fill="#3d4049" textLength="22.5" lengthAdjust="spacingAndGlyphs" >1.9000</text>
<text x="984.3" y="127.3" font-size="8.0" fill="#3d4049" textLength="22.5" lengthAdjust="spacingAndGlyphs" >1.5000</text>
<text x="984.3" y="152.1" font-size="8.0" fill="#3d4049" textLength="22.5" lengthAdjust="spacingAndGlyphs" >1.2000</text>
<text x="984.3" y="172.4" font-size="8.0" fill="#3d4049" textLength="22.5" lengthAdjust="spacingAndGlyphs" >1.0000</text>
<text x="984.3" y="197.2" font-size="8.0" fill="#3d4049" textLength="22.5" lengthAdjust="spacingAndGlyphs" >0.8000</text>
<text x="984.3" y="220.3" font-size="8.0" fill="#3d4049" textLength="22.5" lengthAdjust="spacingAndGlyphs" >0.6500</text>
<text x="984.3" y="249.5" font-size="8.0" fill="#3d4049" textLength="22.5" lengthAdjust="spacingAndGlyphs" >0.5000</text>
<text x="984.3" y="274.4" font-size="8.0" fill="#3d4049" textLength="22.5" lengthAdjust="spacingAndGlyphs" >0.4000</text>
<text x="984.3" y="299.2" font-size="8.0" fill="#3d4049" textLength="22.5" lengthAdjust="spacingAndGlyphs" >0.3200</text>
<text x="984.3" y="322.3" font-size="8.0" fill="#3d4049" textLength="22.5" lengthAdjust="spacingAndGlyphs" >0.2600</text>
<text x="984.3" y="343.5" font-size="8.0" fill="#3d4049" textLength="22.5" lengthAdjust="spacingAndGlyphs" >0.2150</text>
<text x="984.3" y="363.3" font-size="8.0" fill="#3d4049" textLength="22.5" lengthAdjust="spacingAndGlyphs" >0.1800</text>
<clipPath id="crsiax"><rect x="978" y="365.5" width="40" height="43.5"/></clipPath>
<text x="984.3" y="368.6" font-size="8.0" fill="#3d4049" textLength="18" lengthAdjust="spacingAndGlyphs" clip-path="url(#crsiax)">80.00</text>
<rect x="980.6" y="22.6" width="33.8" height="16.4" rx="2" fill="#fff" stroke="#eceef2" stroke-width="0.8"/>
<text x="987.2" y="33.6" font-size="8" fill="#131722" textLength="19.4" lengthAdjust="spacingAndGlyphs" >USDT</text>
<rect x="940.5" y="227.2" width="36.8" height="10.6" rx="1.5" fill="#ef5350"/>
<text x="943.2" y="235.3" font-size="7.6" fill="#fff" textLength="31.5" lengthAdjust="spacingAndGlyphs" >ADAUSDT</text>
<rect x="978.6" y="227" width="31.4" height="20" rx="1.5" fill="#ef5350"/>
<text x="984.1" y="235.2" font-size="7.6" fill="#fff" textLength="22.8" lengthAdjust="spacingAndGlyphs" >0.5670</text>
<text x="984.1" y="244.6" font-size="7.6" fill="#fff" textLength="22.2" lengthAdjust="spacingAndGlyphs" >6d 19h</text>
<text x="98.6" y="422.3" font-size="8" fill="#3d4049" textLength="11.2" lengthAdjust="spacingAndGlyphs" >Jul</text>
<text x="191.8" y="422.3" font-size="8" fill="#3d4049" textLength="17.4" lengthAdjust="spacingAndGlyphs" font-weight="bold">2022</text>
<text x="289.9" y="422.3" font-size="8" fill="#3d4049" textLength="11.2" lengthAdjust="spacingAndGlyphs" >Jul</text>
<text x="382.3" y="422.3" font-size="8" fill="#3d4049" textLength="17.4" lengthAdjust="spacingAndGlyphs" font-weight="bold">2023</text>
<text x="480.4" y="422.3" font-size="8" fill="#3d4049" textLength="11.2" lengthAdjust="spacingAndGlyphs" >Jul</text>
<text x="573.6" y="422.3" font-size="8" fill="#3d4049" textLength="17.4" lengthAdjust="spacingAndGlyphs" font-weight="bold">2024</text>
<text x="672.0" y="422.3" font-size="8" fill="#3d4049" textLength="11.2" lengthAdjust="spacingAndGlyphs" >Jul</text>
<text x="768.1" y="422.3" font-size="8" fill="#3d4049" textLength="17.4" lengthAdjust="spacingAndGlyphs" font-weight="bold">2025</text>
<text x="866.9" y="422.3" font-size="8" fill="#3d4049" textLength="11.2" lengthAdjust="spacingAndGlyphs" >Jul</text>
<text x="958.9" y="422.3" font-size="8" fill="#3d4049" textLength="17.4" lengthAdjust="spacingAndGlyphs" font-weight="bold">2026</text>
<clipPath id="ctime"><rect x="8" y="410" width="969" height="18"/></clipPath>
<text x="0.3" y="422.3" font-size="8" fill="#3d4049" textLength="17.4" lengthAdjust="spacingAndGlyphs" font-weight="bold" clip-path="url(#ctime)">2021</text>
<g fill="#131722"><path d="M7.2 437.9h5.8v6.8h-3v-4.1h-2.8z"/><circle cx="14.9" cy="439.3" r="1.35"/><path d="M17.2 437.9h3.5l-3.3 6.8h-3.4z"/></g>
<text x="23.5" y="445.3" font-size="9.6" fill="#24272e" textLength="49" lengthAdjust="spacingAndGlyphs" >TradingView</text>
</svg>
</body></html>
